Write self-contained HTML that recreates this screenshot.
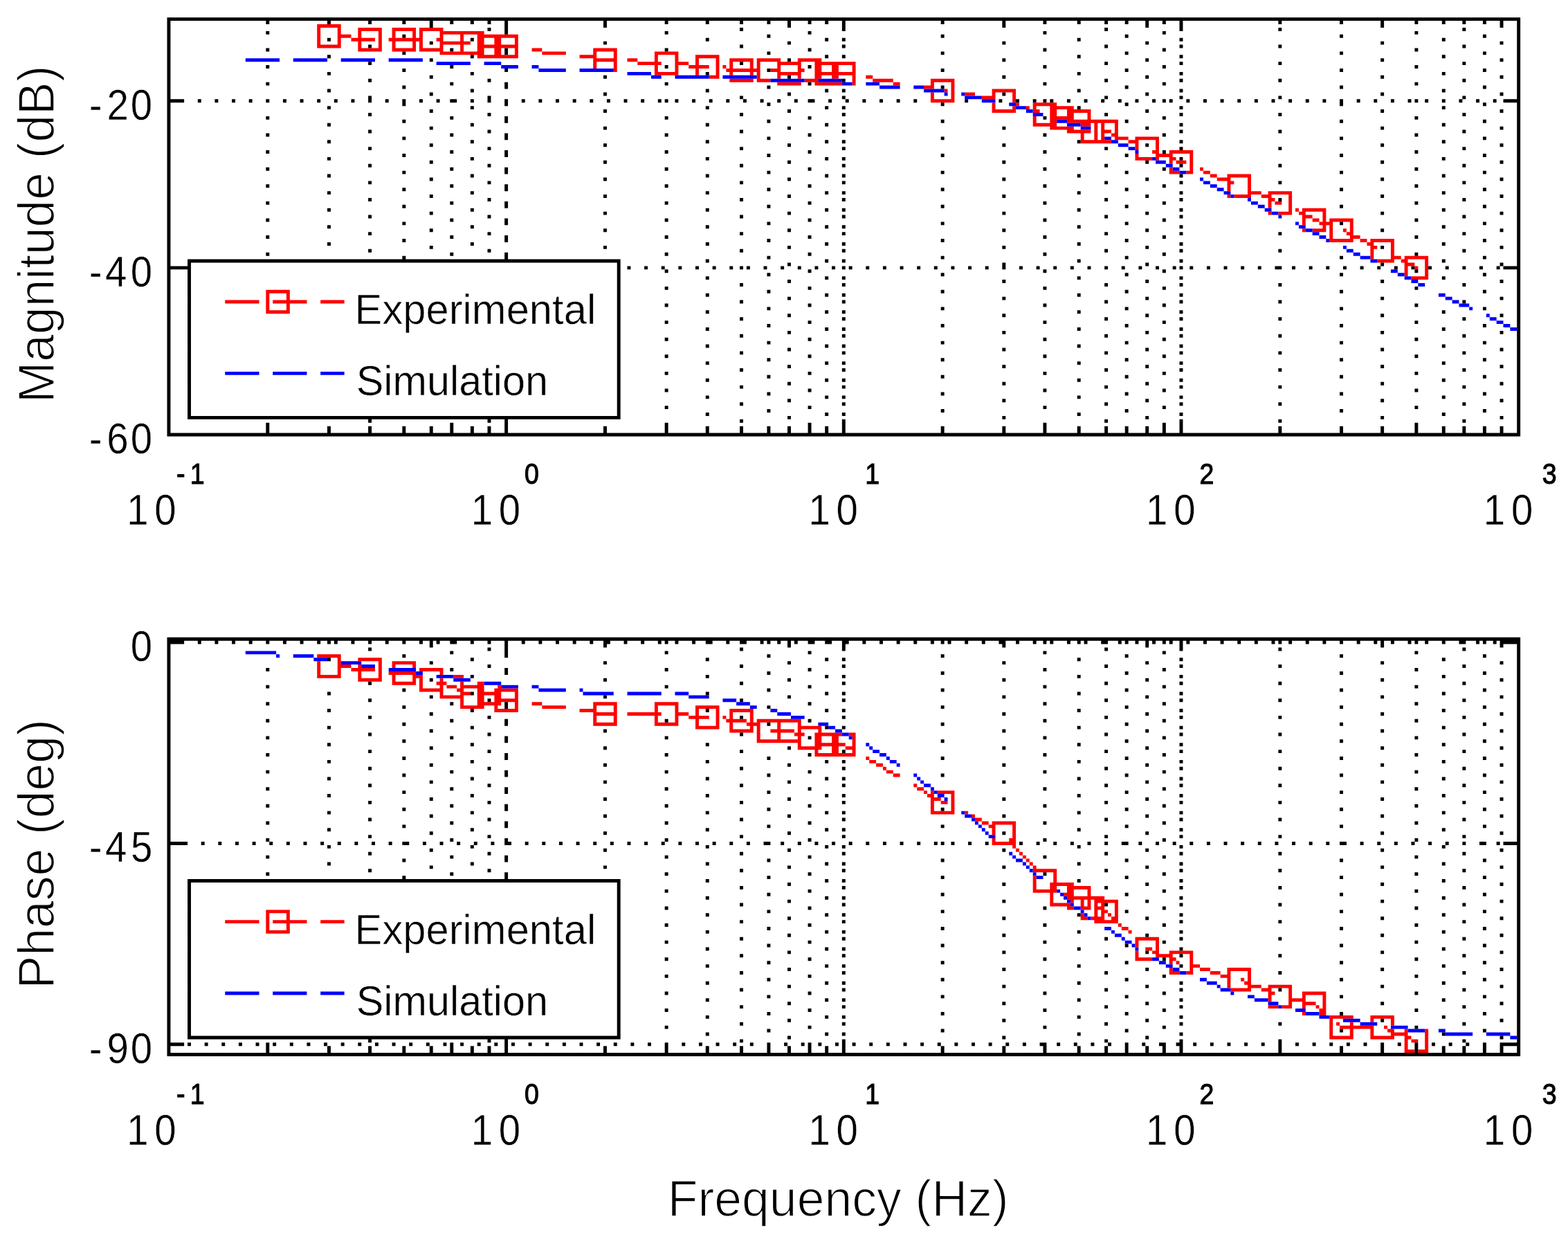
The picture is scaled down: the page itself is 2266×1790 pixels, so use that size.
<!DOCTYPE html>
<html><head><meta charset="utf-8"><title>Bode plot</title>
<style>html,body{margin:0;padding:0;background:#fff;overflow:hidden}svg{display:block}
text{font-family:"Liberation Sans",Arial,Helvetica,sans-serif;fill:#000}
.tk{stroke:#fff;stroke-width:0.4px}.sp{stroke:#000;stroke-width:1.1px}.lg{stroke:#fff;stroke-width:0.6px}.ax{stroke:#fff;stroke-width:1.5px}</style></head>
<body>
<svg width="2266" height="1790" viewBox="0 0 2266 1790">
<rect width="2266" height="1790" fill="#fff"/>
<g transform="translate(0.1 0.6) scale(4.9261 4.9206)">
<path fill="#f00" d="M93 7h7v1h-7zM93 8h1v1h-1zM99 8h1v1h-1zM105 8h7v1h-7zM115 8h7v1h-7zM123 8h7v1h-7zM93 9h1v1h-1zM99 9h1v1h-1zM105 9h1v1h-1zM111 9h1v1h-1zM115 9h1v1h-1zM121 9h1v1h-1zM123 9h1v1h-1zM129 9h13v1h-13zM93 10h1v1h-1zM99 10h4v1h-4zM105 10h1v1h-1zM111 10h1v1h-1zM115 10h1v1h-1zM121 10h1v1h-1zM123 10h1v1h-1zM129 10h1v1h-1zM135 10h1v1h-1zM140 10h12v1h-12zM93 11h1v1h-1zM99 11h1v1h-1zM103 11h7v1h-7zM111 11h1v1h-1zM114 11h10v1h-10zM128 11h2v1h-2zM135 11h1v1h-1zM140 11h2v1h-2zM145 11h2v1h-2zM151 11h1v1h-1zM93 12h1v1h-1zM99 12h1v1h-1zM105 12h1v1h-1zM111 12h1v1h-1zM115 12h1v1h-1zM121 12h1v1h-1zM123 12h1v1h-1zM129 12h9v1h-9zM140 12h2v1h-2zM145 12h2v1h-2zM151 12h1v1h-1zM93 13h7v1h-7zM105 13h1v1h-1zM111 13h1v1h-1zM115 13h1v1h-1zM121 13h1v1h-1zM123 13h1v1h-1zM129 13h1v1h-1zM135 13h1v1h-1zM140 13h12v1h-12zM105 14h7v1h-7zM115 14h7v1h-7zM123 14h7v1h-7zM135 14h1v1h-1zM140 14h2v1h-2zM145 14h2v1h-2zM151 14h1v1h-1zM156 14h3v1h-3zM174 14h7v1h-7zM129 15h13v1h-13zM145 15h2v1h-2zM151 15h1v1h-1zM159 15h7v1h-7zM174 15h1v1h-1zM180 15h1v1h-1zM192 15h7v1h-7zM140 16h12v1h-12zM170 16h5v1h-5zM180 16h1v1h-1zM192 16h1v1h-1zM198 16h1v1h-1zM204 16h7v1h-7zM174 17h7v1h-7zM184 17h3v1h-3zM192 17h1v1h-1zM198 17h1v1h-1zM204 17h1v1h-1zM210 17h1v1h-1zM214 17h7v1h-7zM222 17h7v1h-7zM234 17h7v1h-7zM174 18h1v1h-1zM180 18h1v1h-1zM187 18h7v1h-7zM198 18h4v1h-4zM204 18h1v1h-1zM210 18h1v1h-1zM214 18h1v1h-1zM220 18h1v1h-1zM222 18h1v1h-1zM228 18h7v1h-7zM239 18h12v1h-12zM174 19h1v1h-1zM180 19h1v1h-1zM192 19h1v1h-1zM198 19h1v1h-1zM202 19h6v1h-6zM210 19h1v1h-1zM212 19h1v1h-1zM214 19h1v1h-1zM220 19h1v1h-1zM222 19h1v1h-1zM228 19h1v1h-1zM234 19h1v1h-1zM239 19h2v1h-2zM244 19h2v1h-2zM250 19h1v1h-1zM180 20h1v1h-1zM192 20h1v1h-1zM198 20h1v1h-1zM204 20h1v1h-1zM210 20h1v1h-1zM213 20h10v1h-10zM226 20h3v1h-3zM234 20h2v1h-2zM239 20h2v1h-2zM244 20h2v1h-2zM250 20h1v1h-1zM192 21h7v1h-7zM204 21h1v1h-1zM210 21h1v1h-1zM214 21h1v1h-1zM220 21h1v1h-1zM222 21h1v1h-1zM228 21h7v1h-7zM239 21h12v1h-12zM208 22h3v1h-3zM222 22h1v1h-1zM228 22h1v1h-1zM234 22h1v1h-1zM239 22h2v1h-2zM244 22h2v1h-2zM250 22h1v1h-1zM254 22h2v1h-2zM214 23h7v1h-7zM222 23h4v1h-4zM236 23h4v1h-4zM250 23h1v1h-1zM256 23h6v1h-6zM273 23h7v1h-7zM228 24h7v1h-7zM239 24h8v1h-8zM250 24h1v1h-1zM262 24h2v1h-2zM273 24h1v1h-1zM279 24h1v1h-1zM271 25h3v1h-3zM279 25h1v1h-1zM277 26h1v1h-1zM279 26h1v1h-1zM291 26h7v1h-7zM273 27h1v1h-1zM279 27h1v1h-1zM283 27h3v1h-3zM291 27h1v1h-1zM297 27h1v1h-1zM273 28h1v1h-1zM279 28h1v1h-1zM288 28h4v1h-4zM297 28h1v1h-1zM273 29h7v1h-7zM297 29h1v1h-1zM291 30h1v1h-1zM298 30h1v1h-1zM303 30h7v1h-7zM291 31h1v1h-1zM297 31h1v1h-1zM301 31h1v1h-1zM303 31h1v1h-1zM308 31h7v1h-7zM291 32h7v1h-7zM303 32h2v1h-2zM308 32h2v1h-2zM313 32h7v1h-7zM308 33h2v1h-2zM313 33h2v1h-2zM319 33h1v1h-1zM303 34h1v1h-1zM308 34h7v1h-7zM319 34h1v1h-1zM303 35h1v1h-1zM308 35h2v1h-2zM313 35h15v1h-15zM303 36h7v1h-7zM317 36h3v1h-3zM321 36h1v1h-1zM323 36h1v1h-1zM327 36h1v1h-1zM308 37h7v1h-7zM321 37h1v1h-1zM323 37h1v1h-1zM327 37h1v1h-1zM313 38h7v1h-7zM321 38h1v1h-1zM323 38h3v1h-3zM327 38h1v1h-1zM317 39h1v1h-1zM321 39h1v1h-1zM323 39h1v1h-1zM326 39h2v1h-2zM317 40h1v1h-1zM321 40h1v1h-1zM323 40h1v1h-1zM327 40h4v1h-4zM333 40h7v1h-7zM317 41h9v1h-9zM331 41h3v1h-3zM339 41h1v1h-1zM333 42h1v1h-1zM339 42h1v1h-1zM333 43h1v1h-1zM339 43h1v1h-1zM338 44h2v1h-2zM343 44h7v1h-7zM333 45h1v1h-1zM339 45h5v1h-5zM349 45h1v1h-1zM333 46h5v1h-5zM339 46h1v1h-1zM343 46h2v1h-2zM349 46h1v1h-1zM343 47h1v1h-1zM345 47h3v1h-3zM349 47h1v1h-1zM349 48h1v1h-1zM343 49h1v1h-1zM349 49h1v1h-1zM352 49h1v1h-1zM343 50h3v1h-3zM348 50h2v1h-2zM353 50h2v1h-2zM355 51h2v1h-2zM360 51h7v1h-7zM357 52h4v1h-4zM366 52h1v1h-1zM360 53h2v1h-2zM366 53h1v1h-1zM360 54h1v1h-1zM366 54h1v1h-1zM360 55h1v1h-1zM366 55h1v1h-1zM366 56h4v1h-4zM372 56h7v1h-7zM360 57h1v1h-1zM362 57h5v1h-5zM370 57h3v1h-3zM378 57h1v1h-1zM372 58h2v1h-2zM378 58h1v1h-1zM372 59h1v1h-1zM374 59h2v1h-2zM378 59h1v1h-1zM372 60h1v1h-1zM378 60h1v1h-1zM378 61h1v1h-1zM380 61h1v1h-1zM382 61h7v1h-7zM372 62h1v1h-1zM375 62h4v1h-4zM381 62h2v1h-2zM388 62h1v1h-1zM382 63h3v1h-3zM388 63h1v1h-1zM382 64h1v1h-1zM385 64h2v1h-2zM388 64h1v1h-1zM390 64h7v1h-7zM382 65h1v1h-1zM387 65h4v1h-4zM396 65h1v1h-1zM388 66h1v1h-1zM390 66h1v1h-1zM396 66h1v1h-1zM382 67h1v1h-1zM385 67h4v1h-4zM390 67h1v1h-1zM394 67h1v1h-1zM396 67h1v1h-1zM390 68h1v1h-1zM395 68h2v1h-2zM390 69h1v1h-1zM396 69h3v1h-3zM390 70h7v1h-7zM399 70h2v1h-2zM402 70h7v1h-7zM401 71h2v1h-2zM408 71h1v1h-1zM402 72h2v1h-2zM408 72h1v1h-1zM402 73h1v1h-1zM408 73h1v1h-1zM402 74h1v1h-1zM408 74h1v1h-1zM402 75h1v1h-1zM408 75h3v1h-3zM412 75h7v1h-7zM404 76h5v1h-5zM411 76h2v1h-2zM418 76h1v1h-1zM412 77h3v1h-3zM418 77h1v1h-1zM412 78h1v1h-1zM415 78h1v1h-1zM418 78h1v1h-1zM412 79h1v1h-1zM418 79h1v1h-1zM412 80h1v1h-1zM418 80h1v1h-1zM414 81h5v1h-5zM78 85h7v1h-7zM78 86h1v1h-1zM84 86h1v1h-1zM78 87h1v1h-1zM84 87h1v1h-1zM66 88h10v1h-10zM78 88h1v1h-1zM80 88h10v1h-10zM94 88h7v1h-7zM78 89h1v1h-1zM84 89h1v1h-1zM78 90h1v1h-1zM84 90h1v1h-1zM78 91h7v1h-7zM93 192h7v1h-7zM99 193h1v1h-1zM105 193h7v1h-7zM93 194h1v1h-1zM99 194h1v1h-1zM111 194h1v1h-1zM115 194h7v1h-7zM93 195h1v1h-1zM99 195h4v1h-4zM105 195h1v1h-1zM111 195h1v1h-1zM115 195h1v1h-1zM121 195h1v1h-1zM93 196h1v1h-1zM99 196h1v1h-1zM103 196h7v1h-7zM111 196h1v1h-1zM123 196h7v1h-7zM93 197h1v1h-1zM99 197h1v1h-1zM105 197h1v1h-1zM111 197h1v1h-1zM114 197h8v1h-8zM129 197h1v1h-1zM93 198h7v1h-7zM105 198h1v1h-1zM111 198h1v1h-1zM115 198h1v1h-1zM121 198h3v1h-3zM133 198h3v1h-3zM105 199h7v1h-7zM115 199h1v1h-1zM121 199h1v1h-1zM123 199h1v1h-1zM129 199h1v1h-1zM115 200h7v1h-7zM123 200h1v1h-1zM128 200h3v1h-3zM135 200h1v1h-1zM140 200h2v1h-2zM123 201h1v1h-1zM129 201h1v1h-1zM131 201h3v1h-3zM135 201h7v1h-7zM146 201h1v1h-1zM123 202h7v1h-7zM134 202h2v1h-2zM140 202h2v1h-2zM145 202h7v1h-7zM129 203h1v1h-1zM135 203h3v1h-3zM140 203h7v1h-7zM151 203h1v1h-1zM129 204h7v1h-7zM140 204h2v1h-2zM145 204h2v1h-2zM151 204h1v1h-1zM135 205h1v1h-1zM140 205h2v1h-2zM145 205h7v1h-7zM135 206h1v1h-1zM140 206h7v1h-7zM151 206h1v1h-1zM156 206h3v1h-3zM174 206h7v1h-7zM192 206h7v1h-7zM135 207h7v1h-7zM145 207h1v1h-1zM151 207h1v1h-1zM159 207h7v1h-7zM174 207h1v1h-1zM180 207h1v1h-1zM192 207h1v1h-1zM198 207h1v1h-1zM204 207h7v1h-7zM145 208h7v1h-7zM170 208h5v1h-5zM180 208h1v1h-1zM192 208h1v1h-1zM198 208h1v1h-1zM204 208h1v1h-1zM210 208h1v1h-1zM214 208h7v1h-7zM174 209h7v1h-7zM184 209h10v1h-10zM198 209h4v1h-4zM204 209h1v1h-1zM210 209h1v1h-1zM214 209h1v1h-1zM220 209h1v1h-1zM174 210h1v1h-1zM180 210h1v1h-1zM192 210h1v1h-1zM198 210h1v1h-1zM202 210h6v1h-6zM210 210h1v1h-1zM212 210h1v1h-1zM214 210h1v1h-1zM220 210h1v1h-1zM174 211h1v1h-1zM180 211h1v1h-1zM192 211h1v1h-1zM198 211h1v1h-1zM204 211h1v1h-1zM210 211h1v1h-1zM213 211h6v1h-6zM220 211h1v1h-1zM222 211h13v1h-13zM174 212h7v1h-7zM192 212h7v1h-7zM204 212h1v1h-1zM210 212h1v1h-1zM214 212h1v1h-1zM219 212h4v1h-4zM228 212h1v1h-1zM234 212h1v1h-1zM204 213h7v1h-7zM214 213h1v1h-1zM220 213h1v1h-1zM222 213h1v1h-1zM228 213h1v1h-1zM234 213h7v1h-7zM214 214h7v1h-7zM222 214h1v1h-1zM226 214h7v1h-7zM234 214h1v1h-1zM240 214h1v1h-1zM222 215h1v1h-1zM228 215h1v1h-1zM233 215h3v1h-3zM239 215h8v1h-8zM249 215h2v1h-2zM222 216h1v1h-1zM228 216h1v1h-1zM234 216h1v1h-1zM239 216h2v1h-2zM244 216h2v1h-2zM250 216h1v1h-1zM222 217h13v1h-13zM239 217h2v1h-2zM244 217h2v1h-2zM250 217h1v1h-1zM234 218h1v1h-1zM239 218h9v1h-9zM250 218h1v1h-1zM234 219h7v1h-7zM244 219h2v1h-2zM248 219h3v1h-3zM239 220h1v1h-1zM244 220h2v1h-2zM250 220h1v1h-1zM239 221h12v1h-12zM254 222h1v1h-1zM255 223h2v1h-2zM257 224h2v1h-2zM259 225h1v1h-1zM260 226h2v1h-2zM262 227h2v1h-2zM268 230h1v1h-1zM269 231h2v1h-2zM271 232h1v1h-1zM273 232h1v1h-1zM275 232h5v1h-5zM272 233h2v1h-2zM279 233h1v1h-1zM273 234h3v1h-3zM279 234h1v1h-1zM273 235h1v1h-1zM276 235h2v1h-2zM279 235h1v1h-1zM273 236h1v1h-1zM279 236h1v1h-1zM273 237h1v1h-1zM279 237h1v1h-1zM273 238h7v1h-7zM283 238h1v1h-1zM285 239h1v1h-1zM286 240h2v1h-2zM288 241h2v1h-2zM291 241h7v1h-7zM290 242h2v1h-2zM297 242h1v1h-1zM291 243h1v1h-1zM297 243h1v1h-1zM291 244h1v1h-1zM297 244h1v1h-1zM297 245h1v1h-1zM291 246h1v1h-1zM296 246h2v1h-2zM291 247h7v1h-7zM297 248h1v1h-1zM298 249h1v1h-1zM299 250h1v1h-1zM300 251h1v1h-1zM301 252h1v1h-1zM302 253h1v1h-1zM303 254h1v1h-1zM303 255h7v1h-7zM309 256h1v1h-1zM303 257h1v1h-1zM309 257h1v1h-1zM303 258h1v1h-1zM309 258h1v1h-1zM303 259h1v1h-1zM308 259h7v1h-7zM303 260h1v1h-1zM308 260h2v1h-2zM313 260h7v1h-7zM303 261h7v1h-7zM313 261h2v1h-2zM319 261h1v1h-1zM308 262h1v1h-1zM312 262h3v1h-3zM319 262h1v1h-1zM308 263h1v1h-1zM313 263h11v1h-11zM308 264h1v1h-1zM314 264h1v1h-1zM317 264h1v1h-1zM319 264h1v1h-1zM321 264h7v1h-7zM308 265h6v1h-6zM317 265h1v1h-1zM319 265h1v1h-1zM321 265h1v1h-1zM323 265h1v1h-1zM327 265h1v1h-1zM313 266h2v1h-2zM317 266h3v1h-3zM321 266h3v1h-3zM327 266h1v1h-1zM78 267h7v1h-7zM321 267h1v1h-1zM323 267h2v1h-2zM327 267h1v1h-1zM78 268h1v1h-1zM84 268h1v1h-1zM317 268h1v1h-1zM321 268h1v1h-1zM323 268h1v1h-1zM325 268h1v1h-1zM327 268h1v1h-1zM78 269h1v1h-1zM84 269h1v1h-1zM317 269h2v1h-2zM320 269h4v1h-4zM326 269h2v1h-2zM66 270h10v1h-10zM78 270h1v1h-1zM80 270h10v1h-10zM94 270h7v1h-7zM321 270h7v1h-7zM78 271h1v1h-1zM84 271h1v1h-1zM328 271h1v1h-1zM78 272h1v1h-1zM84 272h1v1h-1zM329 272h2v1h-2zM78 273h7v1h-7zM331 273h1v1h-1zM333 275h7v1h-7zM333 276h1v1h-1zM339 276h1v1h-1zM333 277h1v1h-1zM339 277h1v1h-1zM336 278h2v1h-2zM339 278h1v1h-1zM333 279h1v1h-1zM338 279h2v1h-2zM343 279h7v1h-7zM333 280h1v1h-1zM339 280h5v1h-5zM349 280h1v1h-1zM333 281h5v1h-5zM343 281h2v1h-2zM349 281h1v1h-1zM343 282h1v1h-1zM345 282h1v1h-1zM349 282h1v1h-1zM349 283h3v1h-3zM343 284h1v1h-1zM349 284h1v1h-1zM352 284h3v1h-3zM360 284h7v1h-7zM343 285h3v1h-3zM348 285h2v1h-2zM355 285h3v1h-3zM360 285h1v1h-1zM366 285h1v1h-1zM358 286h3v1h-3zM366 286h1v1h-1zM360 287h1v1h-1zM364 287h1v1h-1zM366 287h1v1h-1zM360 288h1v1h-1zM365 288h2v1h-2zM360 289h1v1h-1zM366 289h4v1h-4zM372 289h7v1h-7zM361 290h6v1h-6zM370 290h3v1h-3zM378 290h1v1h-1zM372 291h2v1h-2zM378 291h1v1h-1zM382 291h7v1h-7zM372 292h1v1h-1zM378 292h1v1h-1zM382 292h1v1h-1zM388 292h1v1h-1zM372 293h1v1h-1zM378 293h5v1h-5zM388 293h1v1h-1zM378 294h1v1h-1zM382 294h4v1h-4zM388 294h1v1h-1zM372 295h3v1h-3zM376 295h3v1h-3zM382 295h1v1h-1zM386 295h1v1h-1zM388 295h1v1h-1zM387 296h2v1h-2zM382 297h1v1h-1zM387 297h2v1h-2zM390 298h7v1h-7zM402 298h7v1h-7zM390 299h1v1h-1zM402 299h1v1h-1zM408 299h1v1h-1zM390 300h1v1h-1zM392 300h1v1h-1zM396 300h1v1h-1zM408 300h1v1h-1zM390 301h1v1h-1zM393 301h10v1h-10zM406 301h1v1h-1zM390 302h1v1h-1zM396 302h1v1h-1zM402 302h1v1h-1zM407 302h2v1h-2zM412 302h1v1h-1zM418 302h1v1h-1zM390 303h1v1h-1zM396 303h1v1h-1zM402 303h1v1h-1zM408 303h5v1h-5zM418 303h1v1h-1zM390 304h7v1h-7zM402 304h7v1h-7zM412 304h2v1h-2zM418 304h1v1h-1zM412 305h1v1h-1zM414 305h2v1h-2zM418 305h1v1h-1zM412 306h1v1h-1zM418 306h1v1h-1zM412 307h1v1h-1zM418 307h1v1h-1zM412 308h3v1h-3zM416 308h3v1h-3z"/>
<path fill="#00f" d="M72 17h10v1h-10zM86 17h10v1h-10zM100 17h10v1h-10zM114 17h10v1h-10zM128 18h10v1h-10zM142 18h5v1h-5zM147 19h5v1h-5zM156 19h2v1h-2zM158 20h8v1h-8zM170 20h10v1h-10zM184 21h7v1h-7zM191 22h3v1h-3zM198 22h10v1h-10zM212 22h10v1h-10zM226 23h10v1h-10zM240 23h7v1h-7zM247 24h3v1h-3zM254 24h4v1h-4zM258 25h6v1h-6zM268 25h3v1h-3zM271 26h6v1h-6zM277 27h1v1h-1zM282 27h1v1h-1zM283 28h5v1h-5zM288 29h4v1h-4zM296 30h2v1h-2zM298 31h3v1h-3zM301 32h2v1h-2zM303 33h3v1h-3zM310 35h3v1h-3zM313 36h4v1h-4zM317 37h3v1h-3zM324 40h2v1h-2zM326 41h2v1h-2zM328 42h3v1h-3zM331 43h2v1h-2zM333 44h1v1h-1zM338 46h1v1h-1zM339 47h3v1h-3zM342 48h2v1h-2zM344 49h2v1h-2zM346 50h2v1h-2zM352 52h1v1h-1zM353 53h2v1h-2zM355 54h2v1h-2zM357 55h2v1h-2zM359 56h2v1h-2zM361 57h1v1h-1zM366 58h1v1h-1zM367 59h2v1h-2zM369 60h2v1h-2zM371 61h2v1h-2zM373 62h2v1h-2zM375 63h1v1h-1zM380 65h1v1h-1zM381 66h2v1h-2zM383 67h2v1h-2zM385 68h2v1h-2zM387 69h2v1h-2zM389 70h1v1h-1zM394 72h1v1h-1zM395 73h2v1h-2zM397 74h2v1h-2zM399 75h3v1h-3zM402 76h2v1h-2zM408 79h2v1h-2zM410 80h2v1h-2zM412 81h2v1h-2zM414 82h2v1h-2zM416 83h2v1h-2zM422 86h2v1h-2zM424 87h2v1h-2zM426 88h2v1h-2zM428 89h3v1h-3zM431 90h1v1h-1zM436 92h1v1h-1zM437 93h2v1h-2zM439 94h2v1h-2zM441 95h2v1h-2zM443 96h2v1h-2zM66 109h10v1h-10zM80 109h10v1h-10zM94 109h7v1h-7zM72 191h9v1h-9zM81 192h1v1h-1zM86 192h6v1h-6zM92 193h4v1h-4zM100 194h6v1h-6zM106 195h4v1h-4zM114 196h8v1h-8zM122 197h2v1h-2zM128 198h5v1h-5zM133 199h5v1h-5zM142 200h5v1h-5zM147 201h5v1h-5zM156 201h2v1h-2zM158 202h8v1h-8zM170 202h1v1h-1zM171 203h9v1h-9zM184 203h10v1h-10zM198 203h4v1h-4zM202 204h6v1h-6zM212 205h4v1h-4zM216 206h4v1h-4zM220 207h2v1h-2zM226 208h2v1h-2zM228 209h4v1h-4zM232 210h4v1h-4zM240 212h3v1h-3zM243 213h2v1h-2zM245 214h2v1h-2zM247 215h2v1h-2zM249 216h1v1h-1zM254 218h1v1h-1zM255 219h1v1h-1zM256 220h2v1h-2zM258 221h2v1h-2zM260 222h1v1h-1zM261 223h2v1h-2zM263 224h1v1h-1zM268 227h1v1h-1zM269 228h1v1h-1zM270 229h1v1h-1zM271 230h2v1h-2zM273 231h1v1h-1zM274 232h1v1h-1zM275 233h2v1h-2zM277 234h1v1h-1zM282 238h1v1h-1zM283 239h2v1h-2zM285 240h1v1h-1zM286 241h1v1h-1zM287 242h1v1h-1zM288 243h1v1h-1zM289 244h1v1h-1zM290 245h2v1h-2zM296 250h1v1h-1zM297 251h1v1h-1zM298 252h2v1h-2zM300 253h1v1h-1zM301 254h1v1h-1zM302 255h1v1h-1zM303 256h1v1h-1zM304 257h2v1h-2zM310 261h1v1h-1zM311 262h1v1h-1zM312 263h1v1h-1zM313 264h1v1h-1zM314 265h1v1h-1zM315 266h2v1h-2zM317 267h1v1h-1zM318 268h1v1h-1zM319 269h1v1h-1zM324 272h2v1h-2zM326 273h1v1h-1zM327 274h2v1h-2zM329 275h1v1h-1zM330 276h2v1h-2zM332 277h1v1h-1zM333 278h1v1h-1zM338 281h2v1h-2zM340 282h2v1h-2zM342 283h2v1h-2zM344 284h2v1h-2zM346 285h2v1h-2zM352 287h2v1h-2zM354 288h3v1h-3zM357 289h1v1h-1zM358 290h3v1h-3zM66 291h10v1h-10zM80 291h10v1h-10zM94 291h7v1h-7zM361 291h1v1h-1zM366 292h2v1h-2zM368 293h4v1h-4zM372 294h3v1h-3zM375 295h1v1h-1zM380 296h3v1h-3zM383 297h4v1h-4zM387 298h3v1h-3zM394 299h5v1h-5zM399 300h5v1h-5zM408 301h5v1h-5zM413 302h5v1h-5zM422 302h2v1h-2zM424 303h8v1h-8zM436 303h7v1h-7zM443 304h2v1h-2z"/>
<path fill="#000" d="M49 5h397v1h-397zM49 6h1v1h-1zM78 6h1v1h-1zM96 6h1v1h-1zM108 6h1v1h-1zM118 6h1v1h-1zM126 6h1v1h-1zM132 6h1v1h-1zM138 6h1v1h-1zM143 6h1v1h-1zM148 6h1v1h-1zM177 6h1v1h-1zM195 6h1v1h-1zM207 6h1v1h-1zM217 6h1v1h-1zM225 6h1v1h-1zM231 6h1v1h-1zM237 6h1v1h-1zM242 6h1v1h-1zM247 6h1v1h-1zM276 6h1v1h-1zM294 6h1v1h-1zM306 6h1v1h-1zM316 6h1v1h-1zM324 6h1v1h-1zM330 6h1v1h-1zM336 6h1v1h-1zM341 6h1v1h-1zM346 6h1v1h-1zM375 6h1v1h-1zM393 6h1v1h-1zM405 6h1v1h-1zM415 6h1v1h-1zM423 6h1v1h-1zM429 6h1v1h-1zM435 6h1v1h-1zM440 6h1v1h-1zM445 6h1v1h-1zM49 7h1v1h-1zM126 7h1v1h-1zM148 7h1v1h-1zM177 7h1v1h-1zM231 7h1v1h-1zM247 7h1v1h-1zM294 7h1v1h-1zM336 7h1v1h-1zM346 7h1v1h-1zM405 7h1v1h-1zM440 7h1v1h-1zM445 7h1v1h-1zM49 8h1v1h-1zM143 8h1v1h-1zM148 8h1v1h-1zM217 8h1v1h-1zM247 8h1v1h-1zM324 8h1v1h-1zM346 8h1v1h-1zM375 8h1v1h-1zM429 8h1v1h-1zM445 8h1v1h-1zM49 9h1v1h-1zM78 9h1v1h-1zM148 9h1v1h-1zM195 9h1v1h-1zM237 9h1v1h-1zM306 9h1v1h-1zM341 9h1v1h-1zM415 9h1v1h-1zM445 9h1v1h-1zM49 10h1v1h-1zM118 10h1v1h-1zM225 10h1v1h-1zM276 10h1v1h-1zM330 10h1v1h-1zM393 10h1v1h-1zM435 10h1v1h-1zM445 10h1v1h-1zM49 11h1v1h-1zM96 11h1v1h-1zM138 11h1v1h-1zM207 11h1v1h-1zM242 11h1v1h-1zM247 11h1v1h-1zM316 11h1v1h-1zM346 11h1v1h-1zM423 11h1v1h-1zM445 11h1v1h-1zM49 12h1v1h-1zM126 12h1v1h-1zM177 12h1v1h-1zM231 12h1v1h-1zM294 12h1v1h-1zM336 12h1v1h-1zM405 12h1v1h-1zM440 12h1v1h-1zM445 12h1v1h-1zM49 13h1v1h-1zM108 13h1v1h-1zM217 13h1v1h-1zM247 13h1v1h-1zM324 13h1v1h-1zM346 13h1v1h-1zM375 13h1v1h-1zM429 13h1v1h-1zM445 13h1v1h-1zM49 14h1v1h-1zM78 14h1v1h-1zM132 14h1v1h-1zM148 14h1v1h-1zM195 14h1v1h-1zM237 14h1v1h-1zM306 14h1v1h-1zM341 14h1v1h-1zM415 14h1v1h-1zM445 14h1v1h-1zM49 15h1v1h-1zM118 15h1v1h-1zM148 15h1v1h-1zM225 15h1v1h-1zM276 15h1v1h-1zM330 15h1v1h-1zM393 15h1v1h-1zM435 15h1v1h-1zM445 15h1v1h-1zM49 16h1v1h-1zM96 16h1v1h-1zM138 16h1v1h-1zM242 16h1v1h-1zM247 16h1v1h-1zM316 16h1v1h-1zM346 16h1v1h-1zM423 16h1v1h-1zM445 16h1v1h-1zM49 17h1v1h-1zM126 17h1v1h-1zM231 17h1v1h-1zM294 17h1v1h-1zM336 17h1v1h-1zM405 17h1v1h-1zM440 17h1v1h-1zM445 17h1v1h-1zM49 18h1v1h-1zM108 18h1v1h-1zM217 18h1v1h-1zM324 18h1v1h-1zM346 18h1v1h-1zM375 18h1v1h-1zM429 18h1v1h-1zM445 18h1v1h-1zM49 19h1v1h-1zM78 19h1v1h-1zM132 19h1v1h-1zM195 19h1v1h-1zM237 19h1v1h-1zM306 19h1v1h-1zM341 19h1v1h-1zM415 19h1v1h-1zM445 19h1v1h-1zM49 20h1v1h-1zM118 20h1v1h-1zM148 20h1v1h-1zM225 20h1v1h-1zM276 20h1v1h-1zM330 20h1v1h-1zM393 20h1v1h-1zM435 20h1v1h-1zM445 20h1v1h-1zM49 21h1v1h-1zM96 21h1v1h-1zM138 21h1v1h-1zM207 21h1v1h-1zM316 21h1v1h-1zM346 21h1v1h-1zM423 21h1v1h-1zM445 21h1v1h-1zM49 22h1v1h-1zM126 22h1v1h-1zM177 22h1v1h-1zM231 22h1v1h-1zM294 22h1v1h-1zM336 22h1v1h-1zM405 22h1v1h-1zM440 22h1v1h-1zM445 22h1v1h-1zM49 23h1v1h-1zM108 23h1v1h-1zM143 23h1v1h-1zM247 23h1v1h-1zM324 23h1v1h-1zM346 23h1v1h-1zM375 23h1v1h-1zM429 23h1v1h-1zM445 23h1v1h-1zM49 24h1v1h-1zM78 24h1v1h-1zM132 24h1v1h-1zM148 24h1v1h-1zM195 24h1v1h-1zM237 24h1v1h-1zM306 24h1v1h-1zM341 24h1v1h-1zM415 24h1v1h-1zM445 24h1v1h-1zM49 25h1v1h-1zM118 25h1v1h-1zM148 25h1v1h-1zM225 25h1v1h-1zM276 25h1v1h-1zM330 25h1v1h-1zM393 25h1v1h-1zM435 25h1v1h-1zM445 25h1v1h-1zM49 26h1v1h-1zM96 26h1v1h-1zM138 26h1v1h-1zM207 26h1v1h-1zM242 26h1v1h-1zM247 26h1v1h-1zM316 26h1v1h-1zM346 26h1v1h-1zM423 26h1v1h-1zM445 26h1v1h-1zM49 27h1v1h-1zM126 27h1v1h-1zM177 27h1v1h-1zM231 27h1v1h-1zM294 27h1v1h-1zM336 27h1v1h-1zM405 27h1v1h-1zM440 27h1v1h-1zM445 27h1v1h-1zM49 28h1v1h-1zM108 28h1v1h-1zM143 28h1v1h-1zM217 28h1v1h-1zM247 28h1v1h-1zM324 28h1v1h-1zM346 28h1v1h-1zM375 28h1v1h-1zM429 28h1v1h-1zM445 28h1v1h-1zM49 29h5v1h-5zM58 29h1v1h-1zM63 29h1v1h-1zM68 29h1v1h-1zM73 29h1v1h-1zM78 29h1v1h-1zM83 29h1v1h-1zM88 29h1v1h-1zM93 29h1v1h-1zM98 29h1v1h-1zM103 29h1v1h-1zM108 29h1v1h-1zM113 29h1v1h-1zM118 29h1v1h-1zM123 29h1v1h-1zM128 29h1v1h-1zM132 29h2v1h-2zM138 29h1v1h-1zM143 29h1v1h-1zM148 29h1v1h-1zM153 29h1v1h-1zM158 29h1v1h-1zM163 29h1v1h-1zM168 29h1v1h-1zM173 29h1v1h-1zM178 29h1v1h-1zM183 29h1v1h-1zM188 29h1v1h-1zM193 29h1v1h-1zM195 29h1v1h-1zM198 29h1v1h-1zM203 29h1v1h-1zM208 29h1v1h-1zM213 29h1v1h-1zM218 29h1v1h-1zM223 29h1v1h-1zM228 29h1v1h-1zM233 29h1v1h-1zM237 29h2v1h-2zM243 29h1v1h-1zM248 29h1v1h-1zM253 29h1v1h-1zM258 29h1v1h-1zM263 29h1v1h-1zM268 29h1v1h-1zM283 29h1v1h-1zM293 29h1v1h-1zM298 29h1v1h-1zM303 29h1v1h-1zM306 29h1v1h-1zM308 29h1v1h-1zM313 29h1v1h-1zM318 29h1v1h-1zM323 29h1v1h-1zM328 29h1v1h-1zM333 29h1v1h-1zM338 29h1v1h-1zM341 29h1v1h-1zM343 29h1v1h-1zM348 29h1v1h-1zM353 29h1v1h-1zM358 29h1v1h-1zM363 29h1v1h-1zM368 29h1v1h-1zM373 29h1v1h-1zM378 29h1v1h-1zM383 29h1v1h-1zM388 29h1v1h-1zM393 29h1v1h-1zM398 29h1v1h-1zM403 29h1v1h-1zM408 29h1v1h-1zM413 29h1v1h-1zM415 29h1v1h-1zM418 29h1v1h-1zM423 29h1v1h-1zM428 29h1v1h-1zM433 29h1v1h-1zM438 29h1v1h-1zM441 29h5v1h-5zM49 30h1v1h-1zM118 30h1v1h-1zM148 30h1v1h-1zM225 30h1v1h-1zM276 30h1v1h-1zM330 30h1v1h-1zM393 30h1v1h-1zM435 30h1v1h-1zM445 30h1v1h-1zM49 31h1v1h-1zM96 31h1v1h-1zM138 31h1v1h-1zM207 31h1v1h-1zM242 31h1v1h-1zM247 31h1v1h-1zM316 31h1v1h-1zM346 31h1v1h-1zM423 31h1v1h-1zM445 31h1v1h-1zM49 32h1v1h-1zM126 32h1v1h-1zM177 32h1v1h-1zM231 32h1v1h-1zM336 32h1v1h-1zM405 32h1v1h-1zM440 32h1v1h-1zM445 32h1v1h-1zM49 33h1v1h-1zM108 33h1v1h-1zM143 33h1v1h-1zM217 33h1v1h-1zM247 33h1v1h-1zM324 33h1v1h-1zM346 33h1v1h-1zM375 33h1v1h-1zM429 33h1v1h-1zM445 33h1v1h-1zM49 34h1v1h-1zM78 34h1v1h-1zM132 34h1v1h-1zM148 34h1v1h-1zM195 34h1v1h-1zM237 34h1v1h-1zM306 34h1v1h-1zM341 34h1v1h-1zM415 34h1v1h-1zM445 34h1v1h-1zM49 35h1v1h-1zM118 35h1v1h-1zM148 35h1v1h-1zM225 35h1v1h-1zM276 35h1v1h-1zM330 35h1v1h-1zM393 35h1v1h-1zM435 35h1v1h-1zM445 35h1v1h-1zM49 36h1v1h-1zM96 36h1v1h-1zM138 36h1v1h-1zM207 36h1v1h-1zM242 36h1v1h-1zM247 36h1v1h-1zM346 36h1v1h-1zM423 36h1v1h-1zM445 36h1v1h-1zM49 37h1v1h-1zM126 37h1v1h-1zM177 37h1v1h-1zM231 37h1v1h-1zM294 37h1v1h-1zM336 37h1v1h-1zM405 37h1v1h-1zM440 37h1v1h-1zM445 37h1v1h-1zM49 38h1v1h-1zM108 38h1v1h-1zM143 38h1v1h-1zM217 38h1v1h-1zM247 38h1v1h-1zM346 38h1v1h-1zM375 38h1v1h-1zM429 38h1v1h-1zM445 38h1v1h-1zM49 39h1v1h-1zM78 39h1v1h-1zM132 39h1v1h-1zM148 39h1v1h-1zM195 39h1v1h-1zM237 39h1v1h-1zM306 39h1v1h-1zM341 39h1v1h-1zM415 39h1v1h-1zM445 39h1v1h-1zM49 40h1v1h-1zM118 40h1v1h-1zM148 40h1v1h-1zM225 40h1v1h-1zM276 40h1v1h-1zM393 40h1v1h-1zM435 40h1v1h-1zM445 40h1v1h-1zM49 41h1v1h-1zM96 41h1v1h-1zM138 41h1v1h-1zM207 41h1v1h-1zM242 41h1v1h-1zM247 41h1v1h-1zM316 41h1v1h-1zM346 41h1v1h-1zM423 41h1v1h-1zM445 41h1v1h-1zM49 42h1v1h-1zM126 42h1v1h-1zM177 42h1v1h-1zM231 42h1v1h-1zM294 42h1v1h-1zM336 42h1v1h-1zM405 42h1v1h-1zM440 42h1v1h-1zM445 42h1v1h-1zM49 43h1v1h-1zM108 43h1v1h-1zM143 43h1v1h-1zM217 43h1v1h-1zM247 43h1v1h-1zM324 43h1v1h-1zM346 43h1v1h-1zM375 43h1v1h-1zM429 43h1v1h-1zM445 43h1v1h-1zM49 44h1v1h-1zM78 44h1v1h-1zM132 44h1v1h-1zM148 44h1v1h-1zM195 44h1v1h-1zM237 44h1v1h-1zM306 44h1v1h-1zM341 44h1v1h-1zM415 44h1v1h-1zM445 44h1v1h-1zM49 45h1v1h-1zM118 45h1v1h-1zM148 45h1v1h-1zM225 45h1v1h-1zM276 45h1v1h-1zM330 45h1v1h-1zM393 45h1v1h-1zM435 45h1v1h-1zM445 45h1v1h-1zM49 46h1v1h-1zM96 46h1v1h-1zM138 46h1v1h-1zM207 46h1v1h-1zM242 46h1v1h-1zM247 46h1v1h-1zM316 46h1v1h-1zM346 46h1v1h-1zM423 46h1v1h-1zM445 46h1v1h-1zM49 47h1v1h-1zM126 47h1v1h-1zM177 47h1v1h-1zM231 47h1v1h-1zM294 47h1v1h-1zM336 47h1v1h-1zM405 47h1v1h-1zM440 47h1v1h-1zM445 47h1v1h-1zM49 48h1v1h-1zM108 48h1v1h-1zM143 48h1v1h-1zM217 48h1v1h-1zM247 48h1v1h-1zM324 48h1v1h-1zM346 48h1v1h-1zM375 48h1v1h-1zM429 48h1v1h-1zM445 48h1v1h-1zM49 49h1v1h-1zM78 49h1v1h-1zM132 49h1v1h-1zM148 49h1v1h-1zM195 49h1v1h-1zM237 49h1v1h-1zM306 49h1v1h-1zM341 49h1v1h-1zM415 49h1v1h-1zM445 49h1v1h-1zM49 50h1v1h-1zM118 50h1v1h-1zM148 50h1v1h-1zM225 50h1v1h-1zM276 50h1v1h-1zM330 50h1v1h-1zM393 50h1v1h-1zM435 50h1v1h-1zM445 50h1v1h-1zM49 51h1v1h-1zM96 51h1v1h-1zM138 51h1v1h-1zM207 51h1v1h-1zM242 51h1v1h-1zM247 51h1v1h-1zM316 51h1v1h-1zM346 51h1v1h-1zM423 51h1v1h-1zM445 51h1v1h-1zM49 52h1v1h-1zM126 52h1v1h-1zM177 52h1v1h-1zM231 52h1v1h-1zM294 52h1v1h-1zM336 52h1v1h-1zM405 52h1v1h-1zM440 52h1v1h-1zM445 52h1v1h-1zM49 53h1v1h-1zM108 53h1v1h-1zM143 53h1v1h-1zM217 53h1v1h-1zM247 53h1v1h-1zM324 53h1v1h-1zM346 53h1v1h-1zM375 53h1v1h-1zM429 53h1v1h-1zM445 53h1v1h-1zM49 54h1v1h-1zM78 54h1v1h-1zM132 54h1v1h-1zM148 54h1v1h-1zM195 54h1v1h-1zM237 54h1v1h-1zM306 54h1v1h-1zM341 54h1v1h-1zM415 54h1v1h-1zM445 54h1v1h-1zM49 55h1v1h-1zM118 55h1v1h-1zM148 55h1v1h-1zM225 55h1v1h-1zM276 55h1v1h-1zM330 55h1v1h-1zM393 55h1v1h-1zM435 55h1v1h-1zM445 55h1v1h-1zM49 56h1v1h-1zM96 56h1v1h-1zM138 56h1v1h-1zM207 56h1v1h-1zM242 56h1v1h-1zM247 56h1v1h-1zM316 56h1v1h-1zM346 56h1v1h-1zM423 56h1v1h-1zM445 56h1v1h-1zM49 57h1v1h-1zM126 57h1v1h-1zM177 57h1v1h-1zM231 57h1v1h-1zM294 57h1v1h-1zM336 57h1v1h-1zM405 57h1v1h-1zM440 57h1v1h-1zM445 57h1v1h-1zM49 58h1v1h-1zM108 58h1v1h-1zM143 58h1v1h-1zM217 58h1v1h-1zM247 58h1v1h-1zM324 58h1v1h-1zM346 58h1v1h-1zM375 58h1v1h-1zM429 58h1v1h-1zM445 58h1v1h-1zM49 59h1v1h-1zM78 59h1v1h-1zM132 59h1v1h-1zM148 59h1v1h-1zM195 59h1v1h-1zM237 59h1v1h-1zM306 59h1v1h-1zM341 59h1v1h-1zM415 59h1v1h-1zM445 59h1v1h-1zM49 60h1v1h-1zM118 60h1v1h-1zM148 60h1v1h-1zM225 60h1v1h-1zM276 60h1v1h-1zM330 60h1v1h-1zM393 60h1v1h-1zM435 60h1v1h-1zM445 60h1v1h-1zM49 61h1v1h-1zM96 61h1v1h-1zM138 61h1v1h-1zM207 61h1v1h-1zM242 61h1v1h-1zM247 61h1v1h-1zM316 61h1v1h-1zM346 61h1v1h-1zM423 61h1v1h-1zM445 61h1v1h-1zM49 62h1v1h-1zM126 62h1v1h-1zM177 62h1v1h-1zM231 62h1v1h-1zM294 62h1v1h-1zM336 62h1v1h-1zM405 62h1v1h-1zM440 62h1v1h-1zM445 62h1v1h-1zM49 63h1v1h-1zM108 63h1v1h-1zM143 63h1v1h-1zM217 63h1v1h-1zM247 63h1v1h-1zM324 63h1v1h-1zM346 63h1v1h-1zM429 63h1v1h-1zM445 63h1v1h-1zM49 64h1v1h-1zM78 64h1v1h-1zM132 64h1v1h-1zM148 64h1v1h-1zM195 64h1v1h-1zM237 64h1v1h-1zM306 64h1v1h-1zM341 64h1v1h-1zM415 64h1v1h-1zM445 64h1v1h-1zM49 65h1v1h-1zM118 65h1v1h-1zM148 65h1v1h-1zM225 65h1v1h-1zM276 65h1v1h-1zM330 65h1v1h-1zM393 65h1v1h-1zM435 65h1v1h-1zM445 65h1v1h-1zM49 66h1v1h-1zM96 66h1v1h-1zM138 66h1v1h-1zM207 66h1v1h-1zM242 66h1v1h-1zM247 66h1v1h-1zM316 66h1v1h-1zM346 66h1v1h-1zM423 66h1v1h-1zM445 66h1v1h-1zM49 67h1v1h-1zM126 67h1v1h-1zM177 67h1v1h-1zM231 67h1v1h-1zM294 67h1v1h-1zM336 67h1v1h-1zM405 67h1v1h-1zM440 67h1v1h-1zM445 67h1v1h-1zM49 68h1v1h-1zM108 68h1v1h-1zM143 68h1v1h-1zM217 68h1v1h-1zM247 68h1v1h-1zM324 68h1v1h-1zM346 68h1v1h-1zM375 68h1v1h-1zM429 68h1v1h-1zM445 68h1v1h-1zM49 69h1v1h-1zM78 69h1v1h-1zM132 69h1v1h-1zM148 69h1v1h-1zM195 69h1v1h-1zM237 69h1v1h-1zM306 69h1v1h-1zM341 69h1v1h-1zM415 69h1v1h-1zM445 69h1v1h-1zM49 70h1v1h-1zM118 70h1v1h-1zM148 70h1v1h-1zM225 70h1v1h-1zM276 70h1v1h-1zM330 70h1v1h-1zM435 70h1v1h-1zM445 70h1v1h-1zM49 71h1v1h-1zM96 71h1v1h-1zM138 71h1v1h-1zM207 71h1v1h-1zM242 71h1v1h-1zM247 71h1v1h-1zM316 71h1v1h-1zM346 71h1v1h-1zM423 71h1v1h-1zM445 71h1v1h-1zM49 72h1v1h-1zM126 72h1v1h-1zM177 72h1v1h-1zM231 72h1v1h-1zM294 72h1v1h-1zM336 72h1v1h-1zM405 72h1v1h-1zM440 72h1v1h-1zM445 72h1v1h-1zM49 73h1v1h-1zM108 73h1v1h-1zM143 73h1v1h-1zM217 73h1v1h-1zM247 73h1v1h-1zM324 73h1v1h-1zM346 73h1v1h-1zM375 73h1v1h-1zM429 73h1v1h-1zM445 73h1v1h-1zM49 74h1v1h-1zM78 74h1v1h-1zM132 74h1v1h-1zM148 74h1v1h-1zM195 74h1v1h-1zM237 74h1v1h-1zM306 74h1v1h-1zM341 74h1v1h-1zM415 74h1v1h-1zM445 74h1v1h-1zM49 75h1v1h-1zM118 75h1v1h-1zM148 75h1v1h-1zM225 75h1v1h-1zM276 75h1v1h-1zM330 75h1v1h-1zM393 75h1v1h-1zM435 75h1v1h-1zM445 75h1v1h-1zM49 76h1v1h-1zM55 76h127v1h-127zM207 76h1v1h-1zM242 76h1v1h-1zM247 76h1v1h-1zM316 76h1v1h-1zM346 76h1v1h-1zM423 76h1v1h-1zM445 76h1v1h-1zM49 77h1v1h-1zM55 77h1v1h-1zM181 77h1v1h-1zM231 77h1v1h-1zM294 77h1v1h-1zM336 77h1v1h-1zM405 77h1v1h-1zM440 77h1v1h-1zM445 77h1v1h-1zM49 78h7v1h-7zM181 78h1v1h-1zM184 78h1v1h-1zM189 78h1v1h-1zM194 78h1v1h-1zM199 78h1v1h-1zM204 78h1v1h-1zM209 78h1v1h-1zM214 78h1v1h-1zM217 78h1v1h-1zM219 78h1v1h-1zM224 78h1v1h-1zM229 78h1v1h-1zM234 78h1v1h-1zM239 78h1v1h-1zM244 78h1v1h-1zM247 78h1v1h-1zM249 78h1v1h-1zM254 78h1v1h-1zM259 78h1v1h-1zM264 78h1v1h-1zM269 78h1v1h-1zM274 78h1v1h-1zM279 78h1v1h-1zM284 78h1v1h-1zM289 78h1v1h-1zM294 78h1v1h-1zM299 78h1v1h-1zM304 78h1v1h-1zM309 78h1v1h-1zM314 78h1v1h-1zM319 78h1v1h-1zM324 78h1v1h-1zM329 78h1v1h-1zM334 78h1v1h-1zM339 78h1v1h-1zM344 78h1v1h-1zM346 78h1v1h-1zM349 78h1v1h-1zM354 78h1v1h-1zM359 78h1v1h-1zM364 78h1v1h-1zM369 78h1v1h-1zM374 78h2v1h-2zM379 78h1v1h-1zM384 78h1v1h-1zM389 78h1v1h-1zM394 78h1v1h-1zM399 78h1v1h-1zM404 78h1v1h-1zM409 78h1v1h-1zM414 78h1v1h-1zM419 78h1v1h-1zM424 78h1v1h-1zM429 78h1v1h-1zM434 78h1v1h-1zM439 78h1v1h-1zM441 78h5v1h-5zM49 79h1v1h-1zM55 79h1v1h-1zM181 79h1v1h-1zM195 79h1v1h-1zM237 79h1v1h-1zM306 79h1v1h-1zM341 79h1v1h-1zM415 79h1v1h-1zM445 79h1v1h-1zM49 80h1v1h-1zM55 80h1v1h-1zM181 80h1v1h-1zM225 80h1v1h-1zM276 80h1v1h-1zM330 80h1v1h-1zM393 80h1v1h-1zM435 80h1v1h-1zM445 80h1v1h-1zM49 81h1v1h-1zM55 81h1v1h-1zM181 81h1v1h-1zM207 81h1v1h-1zM242 81h1v1h-1zM247 81h1v1h-1zM316 81h1v1h-1zM346 81h1v1h-1zM423 81h1v1h-1zM445 81h1v1h-1zM49 82h1v1h-1zM55 82h1v1h-1zM181 82h1v1h-1zM231 82h1v1h-1zM294 82h1v1h-1zM336 82h1v1h-1zM405 82h1v1h-1zM440 82h1v1h-1zM445 82h1v1h-1zM49 83h1v1h-1zM55 83h1v1h-1zM181 83h1v1h-1zM217 83h1v1h-1zM247 83h1v1h-1zM324 83h1v1h-1zM346 83h1v1h-1zM375 83h1v1h-1zM429 83h1v1h-1zM445 83h1v1h-1zM49 84h1v1h-1zM55 84h1v1h-1zM181 84h1v1h-1zM195 84h1v1h-1zM237 84h1v1h-1zM306 84h1v1h-1zM341 84h1v1h-1zM415 84h1v1h-1zM445 84h1v1h-1zM49 85h1v1h-1zM55 85h1v1h-1zM181 85h1v1h-1zM225 85h1v1h-1zM276 85h1v1h-1zM330 85h1v1h-1zM393 85h1v1h-1zM435 85h1v1h-1zM445 85h1v1h-1zM49 86h1v1h-1zM55 86h1v1h-1zM181 86h1v1h-1zM207 86h1v1h-1zM242 86h1v1h-1zM247 86h1v1h-1zM316 86h1v1h-1zM346 86h1v1h-1zM445 86h1v1h-1zM49 87h1v1h-1zM55 87h1v1h-1zM181 87h1v1h-1zM231 87h1v1h-1zM294 87h1v1h-1zM336 87h1v1h-1zM405 87h1v1h-1zM440 87h1v1h-1zM445 87h1v1h-1zM49 88h1v1h-1zM55 88h1v1h-1zM181 88h1v1h-1zM217 88h1v1h-1zM247 88h1v1h-1zM324 88h1v1h-1zM346 88h1v1h-1zM375 88h1v1h-1zM429 88h1v1h-1zM445 88h1v1h-1zM49 89h1v1h-1zM55 89h1v1h-1zM181 89h1v1h-1zM195 89h1v1h-1zM237 89h1v1h-1zM306 89h1v1h-1zM341 89h1v1h-1zM415 89h1v1h-1zM445 89h1v1h-1zM49 90h1v1h-1zM55 90h1v1h-1zM181 90h1v1h-1zM225 90h1v1h-1zM276 90h1v1h-1zM330 90h1v1h-1zM393 90h1v1h-1zM435 90h1v1h-1zM445 90h1v1h-1zM49 91h1v1h-1zM55 91h1v1h-1zM181 91h1v1h-1zM207 91h1v1h-1zM242 91h1v1h-1zM247 91h1v1h-1zM316 91h1v1h-1zM346 91h1v1h-1zM423 91h1v1h-1zM445 91h1v1h-1zM49 92h1v1h-1zM55 92h1v1h-1zM181 92h1v1h-1zM231 92h1v1h-1zM294 92h1v1h-1zM336 92h1v1h-1zM405 92h1v1h-1zM440 92h1v1h-1zM445 92h1v1h-1zM49 93h1v1h-1zM55 93h1v1h-1zM181 93h1v1h-1zM217 93h1v1h-1zM247 93h1v1h-1zM324 93h1v1h-1zM346 93h1v1h-1zM375 93h1v1h-1zM429 93h1v1h-1zM445 93h1v1h-1zM49 94h1v1h-1zM55 94h1v1h-1zM181 94h1v1h-1zM195 94h1v1h-1zM237 94h1v1h-1zM306 94h1v1h-1zM341 94h1v1h-1zM415 94h1v1h-1zM445 94h1v1h-1zM49 95h1v1h-1zM55 95h1v1h-1zM181 95h1v1h-1zM225 95h1v1h-1zM276 95h1v1h-1zM330 95h1v1h-1zM393 95h1v1h-1zM435 95h1v1h-1zM445 95h1v1h-1zM49 96h1v1h-1zM55 96h1v1h-1zM181 96h1v1h-1zM207 96h1v1h-1zM242 96h1v1h-1zM247 96h1v1h-1zM316 96h1v1h-1zM346 96h1v1h-1zM423 96h1v1h-1zM445 96h1v1h-1zM49 97h1v1h-1zM55 97h1v1h-1zM181 97h1v1h-1zM231 97h1v1h-1zM294 97h1v1h-1zM336 97h1v1h-1zM405 97h1v1h-1zM440 97h1v1h-1zM445 97h1v1h-1zM49 98h1v1h-1zM55 98h1v1h-1zM181 98h1v1h-1zM217 98h1v1h-1zM247 98h1v1h-1zM324 98h1v1h-1zM346 98h1v1h-1zM375 98h1v1h-1zM429 98h1v1h-1zM445 98h1v1h-1zM49 99h1v1h-1zM55 99h1v1h-1zM181 99h1v1h-1zM195 99h1v1h-1zM237 99h1v1h-1zM306 99h1v1h-1zM341 99h1v1h-1zM415 99h1v1h-1zM445 99h1v1h-1zM49 100h1v1h-1zM55 100h1v1h-1zM181 100h1v1h-1zM225 100h1v1h-1zM276 100h1v1h-1zM330 100h1v1h-1zM393 100h1v1h-1zM435 100h1v1h-1zM445 100h1v1h-1zM49 101h1v1h-1zM55 101h1v1h-1zM181 101h1v1h-1zM207 101h1v1h-1zM242 101h1v1h-1zM247 101h1v1h-1zM316 101h1v1h-1zM346 101h1v1h-1zM423 101h1v1h-1zM445 101h1v1h-1zM49 102h1v1h-1zM55 102h1v1h-1zM181 102h1v1h-1zM231 102h1v1h-1zM294 102h1v1h-1zM336 102h1v1h-1zM405 102h1v1h-1zM440 102h1v1h-1zM445 102h1v1h-1zM49 103h1v1h-1zM55 103h1v1h-1zM181 103h1v1h-1zM217 103h1v1h-1zM247 103h1v1h-1zM324 103h1v1h-1zM346 103h1v1h-1zM375 103h1v1h-1zM429 103h1v1h-1zM445 103h1v1h-1zM49 104h1v1h-1zM55 104h1v1h-1zM181 104h1v1h-1zM195 104h1v1h-1zM237 104h1v1h-1zM306 104h1v1h-1zM341 104h1v1h-1zM415 104h1v1h-1zM445 104h1v1h-1zM49 105h1v1h-1zM55 105h1v1h-1zM181 105h1v1h-1zM225 105h1v1h-1zM276 105h1v1h-1zM330 105h1v1h-1zM393 105h1v1h-1zM435 105h1v1h-1zM445 105h1v1h-1zM49 106h1v1h-1zM55 106h1v1h-1zM181 106h1v1h-1zM207 106h1v1h-1zM242 106h1v1h-1zM247 106h1v1h-1zM316 106h1v1h-1zM346 106h1v1h-1zM423 106h1v1h-1zM445 106h1v1h-1zM49 107h1v1h-1zM55 107h1v1h-1zM181 107h1v1h-1zM231 107h1v1h-1zM294 107h1v1h-1zM336 107h1v1h-1zM405 107h1v1h-1zM440 107h1v1h-1zM445 107h1v1h-1zM49 108h1v1h-1zM55 108h1v1h-1zM181 108h1v1h-1zM217 108h1v1h-1zM247 108h1v1h-1zM324 108h1v1h-1zM346 108h1v1h-1zM375 108h1v1h-1zM429 108h1v1h-1zM445 108h1v1h-1zM49 109h1v1h-1zM55 109h1v1h-1zM181 109h1v1h-1zM195 109h1v1h-1zM237 109h1v1h-1zM306 109h1v1h-1zM341 109h1v1h-1zM415 109h1v1h-1zM445 109h1v1h-1zM49 110h1v1h-1zM55 110h1v1h-1zM181 110h1v1h-1zM225 110h1v1h-1zM276 110h1v1h-1zM330 110h1v1h-1zM393 110h1v1h-1zM435 110h1v1h-1zM445 110h1v1h-1zM49 111h1v1h-1zM55 111h1v1h-1zM181 111h1v1h-1zM207 111h1v1h-1zM242 111h1v1h-1zM247 111h1v1h-1zM316 111h1v1h-1zM346 111h1v1h-1zM423 111h1v1h-1zM445 111h1v1h-1zM49 112h1v1h-1zM55 112h1v1h-1zM181 112h1v1h-1zM231 112h1v1h-1zM294 112h1v1h-1zM336 112h1v1h-1zM405 112h1v1h-1zM440 112h1v1h-1zM445 112h1v1h-1zM49 113h1v1h-1zM55 113h1v1h-1zM181 113h1v1h-1zM217 113h1v1h-1zM247 113h1v1h-1zM324 113h1v1h-1zM346 113h1v1h-1zM375 113h1v1h-1zM429 113h1v1h-1zM445 113h1v1h-1zM49 114h1v1h-1zM55 114h1v1h-1zM181 114h1v1h-1zM195 114h1v1h-1zM237 114h1v1h-1zM306 114h1v1h-1zM341 114h1v1h-1zM415 114h1v1h-1zM445 114h1v1h-1zM49 115h1v1h-1zM55 115h1v1h-1zM181 115h1v1h-1zM225 115h1v1h-1zM276 115h1v1h-1zM330 115h1v1h-1zM393 115h1v1h-1zM435 115h1v1h-1zM445 115h1v1h-1zM49 116h1v1h-1zM55 116h1v1h-1zM181 116h1v1h-1zM207 116h1v1h-1zM242 116h1v1h-1zM247 116h1v1h-1zM316 116h1v1h-1zM346 116h1v1h-1zM423 116h1v1h-1zM445 116h1v1h-1zM49 117h1v1h-1zM55 117h1v1h-1zM181 117h1v1h-1zM231 117h1v1h-1zM294 117h1v1h-1zM336 117h1v1h-1zM405 117h1v1h-1zM440 117h1v1h-1zM445 117h1v1h-1zM49 118h1v1h-1zM55 118h1v1h-1zM181 118h1v1h-1zM217 118h1v1h-1zM247 118h1v1h-1zM324 118h1v1h-1zM346 118h1v1h-1zM375 118h1v1h-1zM429 118h1v1h-1zM445 118h1v1h-1zM49 119h1v1h-1zM55 119h1v1h-1zM181 119h1v1h-1zM195 119h1v1h-1zM237 119h1v1h-1zM306 119h1v1h-1zM341 119h1v1h-1zM415 119h1v1h-1zM445 119h1v1h-1zM49 120h1v1h-1zM55 120h1v1h-1zM181 120h1v1h-1zM225 120h1v1h-1zM276 120h1v1h-1zM330 120h1v1h-1zM393 120h1v1h-1zM435 120h1v1h-1zM445 120h1v1h-1zM49 121h1v1h-1zM55 121h1v1h-1zM181 121h1v1h-1zM207 121h1v1h-1zM242 121h1v1h-1zM247 121h1v1h-1zM316 121h1v1h-1zM346 121h1v1h-1zM423 121h1v1h-1zM445 121h1v1h-1zM49 122h1v1h-1zM55 122h127v1h-127zM231 122h1v1h-1zM294 122h1v1h-1zM336 122h1v1h-1zM405 122h1v1h-1zM440 122h1v1h-1zM445 122h1v1h-1zM49 123h1v1h-1zM108 123h1v1h-1zM143 123h1v1h-1zM148 123h1v1h-1zM217 123h1v1h-1zM247 123h1v1h-1zM324 123h1v1h-1zM346 123h1v1h-1zM375 123h1v1h-1zM429 123h1v1h-1zM445 123h1v1h-1zM49 124h1v1h-1zM78 124h1v1h-1zM132 124h1v1h-1zM148 124h1v1h-1zM195 124h1v1h-1zM237 124h1v1h-1zM247 124h1v1h-1zM306 124h1v1h-1zM341 124h1v1h-1zM346 124h1v1h-1zM415 124h1v1h-1zM445 124h1v1h-1zM49 125h1v1h-1zM78 125h1v1h-1zM96 125h1v1h-1zM108 125h1v1h-1zM118 125h1v1h-1zM126 125h1v1h-1zM132 125h1v1h-1zM138 125h1v1h-1zM143 125h1v1h-1zM148 125h1v1h-1zM177 125h1v1h-1zM195 125h1v1h-1zM207 125h1v1h-1zM217 125h1v1h-1zM225 125h1v1h-1zM231 125h1v1h-1zM237 125h1v1h-1zM242 125h1v1h-1zM247 125h1v1h-1zM276 125h1v1h-1zM294 125h1v1h-1zM306 125h1v1h-1zM316 125h1v1h-1zM324 125h1v1h-1zM330 125h1v1h-1zM336 125h1v1h-1zM341 125h1v1h-1zM346 125h1v1h-1zM375 125h1v1h-1zM393 125h1v1h-1zM405 125h1v1h-1zM415 125h1v1h-1zM423 125h1v1h-1zM429 125h1v1h-1zM435 125h1v1h-1zM440 125h1v1h-1zM445 125h1v1h-1zM49 126h1v1h-1zM78 126h1v1h-1zM96 126h1v1h-1zM108 126h1v1h-1zM118 126h1v1h-1zM126 126h1v1h-1zM132 126h1v1h-1zM138 126h1v1h-1zM143 126h1v1h-1zM148 126h1v1h-1zM177 126h1v1h-1zM195 126h1v1h-1zM207 126h1v1h-1zM217 126h1v1h-1zM225 126h1v1h-1zM231 126h1v1h-1zM237 126h1v1h-1zM242 126h1v1h-1zM247 126h1v1h-1zM276 126h1v1h-1zM294 126h1v1h-1zM306 126h1v1h-1zM316 126h1v1h-1zM324 126h1v1h-1zM330 126h1v1h-1zM336 126h1v1h-1zM341 126h1v1h-1zM346 126h1v1h-1zM375 126h1v1h-1zM393 126h1v1h-1zM405 126h1v1h-1zM415 126h1v1h-1zM423 126h1v1h-1zM429 126h1v1h-1zM435 126h1v1h-1zM440 126h1v1h-1zM445 126h1v1h-1zM49 127h397v1h-397zM49 187h397v1h-397zM49 188h5v1h-5zM58 188h1v1h-1zM63 188h1v1h-1zM68 188h1v1h-1zM73 188h1v1h-1zM78 188h1v1h-1zM83 188h1v1h-1zM88 188h1v1h-1zM93 188h1v1h-1zM96 188h1v1h-1zM98 188h1v1h-1zM103 188h1v1h-1zM108 188h1v1h-1zM113 188h1v1h-1zM118 188h1v1h-1zM123 188h1v1h-1zM126 188h1v1h-1zM128 188h1v1h-1zM132 188h2v1h-2zM138 188h1v1h-1zM143 188h1v1h-1zM148 188h1v1h-1zM153 188h1v1h-1zM158 188h1v1h-1zM163 188h1v1h-1zM168 188h1v1h-1zM173 188h1v1h-1zM177 188h2v1h-2zM183 188h1v1h-1zM188 188h1v1h-1zM193 188h1v1h-1zM195 188h1v1h-1zM198 188h1v1h-1zM203 188h1v1h-1zM207 188h2v1h-2zM213 188h1v1h-1zM217 188h2v1h-2zM223 188h1v1h-1zM225 188h1v1h-1zM228 188h1v1h-1zM231 188h1v1h-1zM233 188h1v1h-1zM237 188h2v1h-2zM242 188h2v1h-2zM247 188h2v1h-2zM253 188h1v1h-1zM258 188h1v1h-1zM263 188h1v1h-1zM268 188h1v1h-1zM273 188h1v1h-1zM276 188h1v1h-1zM278 188h1v1h-1zM283 188h1v1h-1zM288 188h1v1h-1zM293 188h2v1h-2zM298 188h1v1h-1zM303 188h1v1h-1zM306 188h1v1h-1zM308 188h1v1h-1zM313 188h1v1h-1zM316 188h1v1h-1zM318 188h1v1h-1zM323 188h2v1h-2zM328 188h1v1h-1zM330 188h1v1h-1zM333 188h1v1h-1zM336 188h1v1h-1zM338 188h1v1h-1zM341 188h1v1h-1zM343 188h1v1h-1zM346 188h1v1h-1zM348 188h1v1h-1zM353 188h1v1h-1zM358 188h1v1h-1zM363 188h1v1h-1zM368 188h1v1h-1zM373 188h1v1h-1zM375 188h1v1h-1zM378 188h1v1h-1zM383 188h1v1h-1zM388 188h1v1h-1zM393 188h1v1h-1zM398 188h1v1h-1zM403 188h1v1h-1zM405 188h1v1h-1zM408 188h1v1h-1zM413 188h1v1h-1zM415 188h1v1h-1zM418 188h1v1h-1zM423 188h1v1h-1zM428 188h2v1h-2zM433 188h1v1h-1zM435 188h1v1h-1zM438 188h1v1h-1zM440 188h6v1h-6zM49 189h1v1h-1zM126 189h1v1h-1zM148 189h1v1h-1zM177 189h1v1h-1zM231 189h1v1h-1zM247 189h1v1h-1zM294 189h1v1h-1zM336 189h1v1h-1zM346 189h1v1h-1zM405 189h1v1h-1zM440 189h1v1h-1zM445 189h1v1h-1zM49 190h1v1h-1zM108 190h1v1h-1zM143 190h1v1h-1zM148 190h1v1h-1zM217 190h1v1h-1zM247 190h1v1h-1zM324 190h1v1h-1zM346 190h1v1h-1zM375 190h1v1h-1zM429 190h1v1h-1zM445 190h1v1h-1zM49 191h1v1h-1zM132 191h1v1h-1zM148 191h1v1h-1zM195 191h1v1h-1zM237 191h1v1h-1zM306 191h1v1h-1zM341 191h1v1h-1zM415 191h1v1h-1zM445 191h1v1h-1zM49 192h1v1h-1zM118 192h1v1h-1zM148 192h1v1h-1zM225 192h1v1h-1zM276 192h1v1h-1zM330 192h1v1h-1zM393 192h1v1h-1zM435 192h1v1h-1zM445 192h1v1h-1zM49 193h1v1h-1zM96 193h1v1h-1zM138 193h1v1h-1zM207 193h1v1h-1zM242 193h1v1h-1zM247 193h1v1h-1zM316 193h1v1h-1zM346 193h1v1h-1zM423 193h1v1h-1zM445 193h1v1h-1zM49 194h1v1h-1zM126 194h1v1h-1zM177 194h1v1h-1zM231 194h1v1h-1zM294 194h1v1h-1zM336 194h1v1h-1zM405 194h1v1h-1zM440 194h1v1h-1zM445 194h1v1h-1zM49 195h1v1h-1zM143 195h1v1h-1zM217 195h1v1h-1zM247 195h1v1h-1zM324 195h1v1h-1zM346 195h1v1h-1zM375 195h1v1h-1zM429 195h1v1h-1zM445 195h1v1h-1zM49 196h1v1h-1zM78 196h1v1h-1zM132 196h1v1h-1zM148 196h1v1h-1zM195 196h1v1h-1zM237 196h1v1h-1zM306 196h1v1h-1zM341 196h1v1h-1zM415 196h1v1h-1zM445 196h1v1h-1zM49 197h1v1h-1zM148 197h1v1h-1zM225 197h1v1h-1zM276 197h1v1h-1zM330 197h1v1h-1zM393 197h1v1h-1zM435 197h1v1h-1zM445 197h1v1h-1zM49 198h1v1h-1zM138 198h1v1h-1zM207 198h1v1h-1zM242 198h1v1h-1zM247 198h1v1h-1zM316 198h1v1h-1zM346 198h1v1h-1zM423 198h1v1h-1zM445 198h1v1h-1zM49 199h1v1h-1zM126 199h1v1h-1zM177 199h1v1h-1zM231 199h1v1h-1zM294 199h1v1h-1zM336 199h1v1h-1zM405 199h1v1h-1zM440 199h1v1h-1zM445 199h1v1h-1zM49 200h1v1h-1zM108 200h1v1h-1zM217 200h1v1h-1zM247 200h1v1h-1zM324 200h1v1h-1zM346 200h1v1h-1zM375 200h1v1h-1zM429 200h1v1h-1zM445 200h1v1h-1zM49 201h1v1h-1zM78 201h1v1h-1zM195 201h1v1h-1zM237 201h1v1h-1zM306 201h1v1h-1zM341 201h1v1h-1zM415 201h1v1h-1zM445 201h1v1h-1zM49 202h1v1h-1zM118 202h1v1h-1zM225 202h1v1h-1zM276 202h1v1h-1zM330 202h1v1h-1zM393 202h1v1h-1zM435 202h1v1h-1zM445 202h1v1h-1zM49 203h1v1h-1zM96 203h1v1h-1zM138 203h1v1h-1zM207 203h1v1h-1zM242 203h1v1h-1zM247 203h1v1h-1zM316 203h1v1h-1zM346 203h1v1h-1zM423 203h1v1h-1zM445 203h1v1h-1zM49 204h1v1h-1zM126 204h1v1h-1zM177 204h1v1h-1zM231 204h1v1h-1zM294 204h1v1h-1zM336 204h1v1h-1zM405 204h1v1h-1zM440 204h1v1h-1zM445 204h1v1h-1zM49 205h1v1h-1zM108 205h1v1h-1zM143 205h1v1h-1zM217 205h1v1h-1zM247 205h1v1h-1zM324 205h1v1h-1zM346 205h1v1h-1zM375 205h1v1h-1zM429 205h1v1h-1zM445 205h1v1h-1zM49 206h1v1h-1zM78 206h1v1h-1zM132 206h1v1h-1zM148 206h1v1h-1zM237 206h1v1h-1zM306 206h1v1h-1zM341 206h1v1h-1zM415 206h1v1h-1zM445 206h1v1h-1zM49 207h1v1h-1zM118 207h1v1h-1zM148 207h1v1h-1zM225 207h1v1h-1zM276 207h1v1h-1zM330 207h1v1h-1zM393 207h1v1h-1zM435 207h1v1h-1zM445 207h1v1h-1zM49 208h1v1h-1zM96 208h1v1h-1zM138 208h1v1h-1zM207 208h1v1h-1zM242 208h1v1h-1zM247 208h1v1h-1zM316 208h1v1h-1zM346 208h1v1h-1zM423 208h1v1h-1zM445 208h1v1h-1zM49 209h1v1h-1zM126 209h1v1h-1zM294 209h1v1h-1zM336 209h1v1h-1zM405 209h1v1h-1zM440 209h1v1h-1zM445 209h1v1h-1zM49 210h1v1h-1zM108 210h1v1h-1zM143 210h1v1h-1zM217 210h1v1h-1zM247 210h1v1h-1zM324 210h1v1h-1zM346 210h1v1h-1zM375 210h1v1h-1zM429 210h1v1h-1zM445 210h1v1h-1zM49 211h1v1h-1zM78 211h1v1h-1zM132 211h1v1h-1zM148 211h1v1h-1zM195 211h1v1h-1zM237 211h1v1h-1zM306 211h1v1h-1zM341 211h1v1h-1zM415 211h1v1h-1zM445 211h1v1h-1zM49 212h1v1h-1zM118 212h1v1h-1zM148 212h1v1h-1zM225 212h1v1h-1zM276 212h1v1h-1zM330 212h1v1h-1zM393 212h1v1h-1zM435 212h1v1h-1zM445 212h1v1h-1zM49 213h1v1h-1zM96 213h1v1h-1zM138 213h1v1h-1zM242 213h1v1h-1zM247 213h1v1h-1zM316 213h1v1h-1zM346 213h1v1h-1zM423 213h1v1h-1zM445 213h1v1h-1zM49 214h1v1h-1zM126 214h1v1h-1zM177 214h1v1h-1zM294 214h1v1h-1zM336 214h1v1h-1zM405 214h1v1h-1zM440 214h1v1h-1zM445 214h1v1h-1zM49 215h1v1h-1zM108 215h1v1h-1zM143 215h1v1h-1zM217 215h1v1h-1zM324 215h1v1h-1zM346 215h1v1h-1zM375 215h1v1h-1zM429 215h1v1h-1zM445 215h1v1h-1zM49 216h1v1h-1zM78 216h1v1h-1zM132 216h1v1h-1zM148 216h1v1h-1zM195 216h1v1h-1zM237 216h1v1h-1zM306 216h1v1h-1zM341 216h1v1h-1zM415 216h1v1h-1zM445 216h1v1h-1zM49 217h1v1h-1zM118 217h1v1h-1zM148 217h1v1h-1zM276 217h1v1h-1zM330 217h1v1h-1zM393 217h1v1h-1zM435 217h1v1h-1zM445 217h1v1h-1zM49 218h1v1h-1zM96 218h1v1h-1zM138 218h1v1h-1zM207 218h1v1h-1zM316 218h1v1h-1zM346 218h1v1h-1zM423 218h1v1h-1zM445 218h1v1h-1zM49 219h1v1h-1zM126 219h1v1h-1zM177 219h1v1h-1zM231 219h1v1h-1zM294 219h1v1h-1zM336 219h1v1h-1zM405 219h1v1h-1zM440 219h1v1h-1zM445 219h1v1h-1zM49 220h1v1h-1zM108 220h1v1h-1zM143 220h1v1h-1zM217 220h1v1h-1zM247 220h1v1h-1zM324 220h1v1h-1zM346 220h1v1h-1zM375 220h1v1h-1zM429 220h1v1h-1zM445 220h1v1h-1zM49 221h1v1h-1zM78 221h1v1h-1zM132 221h1v1h-1zM148 221h1v1h-1zM195 221h1v1h-1zM237 221h1v1h-1zM306 221h1v1h-1zM341 221h1v1h-1zM415 221h1v1h-1zM445 221h1v1h-1zM49 222h1v1h-1zM118 222h1v1h-1zM148 222h1v1h-1zM225 222h1v1h-1zM276 222h1v1h-1zM330 222h1v1h-1zM393 222h1v1h-1zM435 222h1v1h-1zM445 222h1v1h-1zM49 223h1v1h-1zM96 223h1v1h-1zM138 223h1v1h-1zM207 223h1v1h-1zM242 223h1v1h-1zM247 223h1v1h-1zM316 223h1v1h-1zM346 223h1v1h-1zM423 223h1v1h-1zM445 223h1v1h-1zM49 224h1v1h-1zM126 224h1v1h-1zM177 224h1v1h-1zM231 224h1v1h-1zM294 224h1v1h-1zM336 224h1v1h-1zM405 224h1v1h-1zM440 224h1v1h-1zM445 224h1v1h-1zM49 225h1v1h-1zM108 225h1v1h-1zM143 225h1v1h-1zM217 225h1v1h-1zM247 225h1v1h-1zM324 225h1v1h-1zM346 225h1v1h-1zM375 225h1v1h-1zM429 225h1v1h-1zM445 225h1v1h-1zM49 226h1v1h-1zM78 226h1v1h-1zM132 226h1v1h-1zM148 226h1v1h-1zM195 226h1v1h-1zM237 226h1v1h-1zM306 226h1v1h-1zM341 226h1v1h-1zM415 226h1v1h-1zM445 226h1v1h-1zM49 227h1v1h-1zM118 227h1v1h-1zM148 227h1v1h-1zM225 227h1v1h-1zM276 227h1v1h-1zM330 227h1v1h-1zM393 227h1v1h-1zM435 227h1v1h-1zM445 227h1v1h-1zM49 228h1v1h-1zM96 228h1v1h-1zM138 228h1v1h-1zM207 228h1v1h-1zM242 228h1v1h-1zM247 228h1v1h-1zM316 228h1v1h-1zM346 228h1v1h-1zM423 228h1v1h-1zM445 228h1v1h-1zM49 229h1v1h-1zM126 229h1v1h-1zM177 229h1v1h-1zM231 229h1v1h-1zM294 229h1v1h-1zM336 229h1v1h-1zM405 229h1v1h-1zM440 229h1v1h-1zM445 229h1v1h-1zM49 230h1v1h-1zM108 230h1v1h-1zM143 230h1v1h-1zM217 230h1v1h-1zM247 230h1v1h-1zM324 230h1v1h-1zM346 230h1v1h-1zM375 230h1v1h-1zM429 230h1v1h-1zM445 230h1v1h-1zM49 231h1v1h-1zM78 231h1v1h-1zM132 231h1v1h-1zM148 231h1v1h-1zM195 231h1v1h-1zM237 231h1v1h-1zM306 231h1v1h-1zM341 231h1v1h-1zM415 231h1v1h-1zM445 231h1v1h-1zM49 232h1v1h-1zM118 232h1v1h-1zM148 232h1v1h-1zM225 232h1v1h-1zM330 232h1v1h-1zM393 232h1v1h-1zM435 232h1v1h-1zM445 232h1v1h-1zM49 233h1v1h-1zM96 233h1v1h-1zM138 233h1v1h-1zM207 233h1v1h-1zM242 233h1v1h-1zM247 233h1v1h-1zM316 233h1v1h-1zM346 233h1v1h-1zM423 233h1v1h-1zM445 233h1v1h-1zM49 234h1v1h-1zM126 234h1v1h-1zM177 234h1v1h-1zM231 234h1v1h-1zM294 234h1v1h-1zM336 234h1v1h-1zM405 234h1v1h-1zM440 234h1v1h-1zM445 234h1v1h-1zM49 235h1v1h-1zM108 235h1v1h-1zM143 235h1v1h-1zM217 235h1v1h-1zM247 235h1v1h-1zM324 235h1v1h-1zM346 235h1v1h-1zM375 235h1v1h-1zM429 235h1v1h-1zM445 235h1v1h-1zM49 236h1v1h-1zM78 236h1v1h-1zM132 236h1v1h-1zM148 236h1v1h-1zM195 236h1v1h-1zM237 236h1v1h-1zM306 236h1v1h-1zM341 236h1v1h-1zM415 236h1v1h-1zM445 236h1v1h-1zM49 237h1v1h-1zM118 237h1v1h-1zM148 237h1v1h-1zM225 237h1v1h-1zM276 237h1v1h-1zM330 237h1v1h-1zM393 237h1v1h-1zM435 237h1v1h-1zM445 237h1v1h-1zM49 238h1v1h-1zM96 238h1v1h-1zM138 238h1v1h-1zM207 238h1v1h-1zM242 238h1v1h-1zM247 238h1v1h-1zM316 238h1v1h-1zM346 238h1v1h-1zM423 238h1v1h-1zM445 238h1v1h-1zM49 239h1v1h-1zM126 239h1v1h-1zM177 239h1v1h-1zM231 239h1v1h-1zM294 239h1v1h-1zM336 239h1v1h-1zM405 239h1v1h-1zM440 239h1v1h-1zM445 239h1v1h-1zM49 240h1v1h-1zM108 240h1v1h-1zM143 240h1v1h-1zM217 240h1v1h-1zM247 240h1v1h-1zM324 240h1v1h-1zM346 240h1v1h-1zM375 240h1v1h-1zM429 240h1v1h-1zM445 240h1v1h-1zM49 241h1v1h-1zM78 241h1v1h-1zM132 241h1v1h-1zM148 241h1v1h-1zM195 241h1v1h-1zM237 241h1v1h-1zM306 241h1v1h-1zM341 241h1v1h-1zM415 241h1v1h-1zM445 241h1v1h-1zM49 242h1v1h-1zM118 242h1v1h-1zM148 242h1v1h-1zM225 242h1v1h-1zM276 242h1v1h-1zM330 242h1v1h-1zM393 242h1v1h-1zM435 242h1v1h-1zM445 242h1v1h-1zM49 243h1v1h-1zM96 243h1v1h-1zM138 243h1v1h-1zM207 243h1v1h-1zM242 243h1v1h-1zM247 243h1v1h-1zM316 243h1v1h-1zM346 243h1v1h-1zM423 243h1v1h-1zM445 243h1v1h-1zM49 244h1v1h-1zM126 244h1v1h-1zM177 244h1v1h-1zM231 244h1v1h-1zM294 244h1v1h-1zM336 244h1v1h-1zM405 244h1v1h-1zM440 244h1v1h-1zM445 244h1v1h-1zM49 245h1v1h-1zM108 245h1v1h-1zM143 245h1v1h-1zM217 245h1v1h-1zM247 245h1v1h-1zM324 245h1v1h-1zM346 245h1v1h-1zM375 245h1v1h-1zM429 245h1v1h-1zM445 245h1v1h-1zM49 246h1v1h-1zM78 246h1v1h-1zM132 246h1v1h-1zM148 246h1v1h-1zM195 246h1v1h-1zM237 246h1v1h-1zM306 246h1v1h-1zM341 246h1v1h-1zM415 246h1v1h-1zM445 246h1v1h-1zM49 247h6v1h-6zM59 247h1v1h-1zM64 247h1v1h-1zM69 247h1v1h-1zM74 247h1v1h-1zM79 247h1v1h-1zM84 247h1v1h-1zM89 247h1v1h-1zM94 247h1v1h-1zM99 247h1v1h-1zM104 247h1v1h-1zM109 247h1v1h-1zM114 247h1v1h-1zM118 247h2v1h-2zM124 247h1v1h-1zM129 247h1v1h-1zM134 247h1v1h-1zM139 247h1v1h-1zM144 247h1v1h-1zM148 247h2v1h-2zM154 247h1v1h-1zM159 247h1v1h-1zM164 247h1v1h-1zM169 247h1v1h-1zM174 247h1v1h-1zM179 247h1v1h-1zM184 247h1v1h-1zM189 247h1v1h-1zM194 247h1v1h-1zM199 247h1v1h-1zM204 247h1v1h-1zM209 247h1v1h-1zM214 247h1v1h-1zM219 247h1v1h-1zM224 247h2v1h-2zM229 247h1v1h-1zM234 247h1v1h-1zM239 247h1v1h-1zM244 247h1v1h-1zM249 247h1v1h-1zM254 247h1v1h-1zM259 247h1v1h-1zM264 247h1v1h-1zM269 247h1v1h-1zM274 247h1v1h-1zM276 247h1v1h-1zM279 247h1v1h-1zM284 247h1v1h-1zM289 247h1v1h-1zM299 247h1v1h-1zM304 247h1v1h-1zM309 247h1v1h-1zM314 247h1v1h-1zM319 247h1v1h-1zM324 247h1v1h-1zM329 247h2v1h-2zM334 247h1v1h-1zM339 247h1v1h-1zM344 247h1v1h-1zM349 247h1v1h-1zM354 247h1v1h-1zM359 247h1v1h-1zM364 247h1v1h-1zM369 247h1v1h-1zM374 247h1v1h-1zM379 247h1v1h-1zM384 247h1v1h-1zM389 247h1v1h-1zM393 247h2v1h-2zM399 247h1v1h-1zM404 247h1v1h-1zM409 247h1v1h-1zM414 247h1v1h-1zM419 247h1v1h-1zM424 247h1v1h-1zM429 247h1v1h-1zM434 247h2v1h-2zM439 247h1v1h-1zM441 247h5v1h-5zM49 248h1v1h-1zM96 248h1v1h-1zM138 248h1v1h-1zM207 248h1v1h-1zM242 248h1v1h-1zM247 248h1v1h-1zM316 248h1v1h-1zM346 248h1v1h-1zM423 248h1v1h-1zM445 248h1v1h-1zM49 249h1v1h-1zM126 249h1v1h-1zM177 249h1v1h-1zM231 249h1v1h-1zM294 249h1v1h-1zM336 249h1v1h-1zM405 249h1v1h-1zM440 249h1v1h-1zM445 249h1v1h-1zM49 250h1v1h-1zM108 250h1v1h-1zM143 250h1v1h-1zM217 250h1v1h-1zM247 250h1v1h-1zM324 250h1v1h-1zM346 250h1v1h-1zM375 250h1v1h-1zM429 250h1v1h-1zM445 250h1v1h-1zM49 251h1v1h-1zM78 251h1v1h-1zM132 251h1v1h-1zM148 251h1v1h-1zM195 251h1v1h-1zM237 251h1v1h-1zM306 251h1v1h-1zM341 251h1v1h-1zM415 251h1v1h-1zM445 251h1v1h-1zM49 252h1v1h-1zM118 252h1v1h-1zM148 252h1v1h-1zM225 252h1v1h-1zM276 252h1v1h-1zM330 252h1v1h-1zM393 252h1v1h-1zM435 252h1v1h-1zM445 252h1v1h-1zM49 253h1v1h-1zM96 253h1v1h-1zM138 253h1v1h-1zM207 253h1v1h-1zM242 253h1v1h-1zM247 253h1v1h-1zM316 253h1v1h-1zM346 253h1v1h-1zM423 253h1v1h-1zM445 253h1v1h-1zM49 254h1v1h-1zM126 254h1v1h-1zM177 254h1v1h-1zM231 254h1v1h-1zM294 254h1v1h-1zM336 254h1v1h-1zM405 254h1v1h-1zM440 254h1v1h-1zM445 254h1v1h-1zM49 255h1v1h-1zM108 255h1v1h-1zM143 255h1v1h-1zM217 255h1v1h-1zM247 255h1v1h-1zM324 255h1v1h-1zM346 255h1v1h-1zM375 255h1v1h-1zM429 255h1v1h-1zM445 255h1v1h-1zM49 256h1v1h-1zM78 256h1v1h-1zM132 256h1v1h-1zM148 256h1v1h-1zM195 256h1v1h-1zM237 256h1v1h-1zM306 256h1v1h-1zM341 256h1v1h-1zM415 256h1v1h-1zM445 256h1v1h-1zM49 257h1v1h-1zM118 257h1v1h-1zM148 257h1v1h-1zM225 257h1v1h-1zM276 257h1v1h-1zM330 257h1v1h-1zM393 257h1v1h-1zM435 257h1v1h-1zM445 257h1v1h-1zM49 258h1v1h-1zM55 258h127v1h-127zM207 258h1v1h-1zM242 258h1v1h-1zM247 258h1v1h-1zM316 258h1v1h-1zM346 258h1v1h-1zM423 258h1v1h-1zM445 258h1v1h-1zM49 259h1v1h-1zM55 259h1v1h-1zM181 259h1v1h-1zM231 259h1v1h-1zM294 259h1v1h-1zM336 259h1v1h-1zM405 259h1v1h-1zM440 259h1v1h-1zM445 259h1v1h-1zM49 260h1v1h-1zM55 260h1v1h-1zM181 260h1v1h-1zM217 260h1v1h-1zM247 260h1v1h-1zM324 260h1v1h-1zM346 260h1v1h-1zM375 260h1v1h-1zM429 260h1v1h-1zM445 260h1v1h-1zM49 261h1v1h-1zM55 261h1v1h-1zM181 261h1v1h-1zM195 261h1v1h-1zM237 261h1v1h-1zM341 261h1v1h-1zM415 261h1v1h-1zM445 261h1v1h-1zM49 262h1v1h-1zM55 262h1v1h-1zM181 262h1v1h-1zM225 262h1v1h-1zM276 262h1v1h-1zM330 262h1v1h-1zM393 262h1v1h-1zM435 262h1v1h-1zM445 262h1v1h-1zM49 263h1v1h-1zM55 263h1v1h-1zM181 263h1v1h-1zM207 263h1v1h-1zM242 263h1v1h-1zM247 263h1v1h-1zM346 263h1v1h-1zM423 263h1v1h-1zM445 263h1v1h-1zM49 264h1v1h-1zM55 264h1v1h-1zM181 264h1v1h-1zM231 264h1v1h-1zM294 264h1v1h-1zM336 264h1v1h-1zM405 264h1v1h-1zM440 264h1v1h-1zM445 264h1v1h-1zM49 265h1v1h-1zM55 265h1v1h-1zM181 265h1v1h-1zM217 265h1v1h-1zM247 265h1v1h-1zM324 265h1v1h-1zM346 265h1v1h-1zM375 265h1v1h-1zM429 265h1v1h-1zM445 265h1v1h-1zM49 266h1v1h-1zM55 266h1v1h-1zM181 266h1v1h-1zM195 266h1v1h-1zM237 266h1v1h-1zM306 266h1v1h-1zM341 266h1v1h-1zM415 266h1v1h-1zM445 266h1v1h-1zM49 267h1v1h-1zM55 267h1v1h-1zM181 267h1v1h-1zM225 267h1v1h-1zM276 267h1v1h-1zM330 267h1v1h-1zM393 267h1v1h-1zM435 267h1v1h-1zM445 267h1v1h-1zM49 268h1v1h-1zM55 268h1v1h-1zM181 268h1v1h-1zM207 268h1v1h-1zM242 268h1v1h-1zM247 268h1v1h-1zM316 268h1v1h-1zM346 268h1v1h-1zM423 268h1v1h-1zM445 268h1v1h-1zM49 269h1v1h-1zM55 269h1v1h-1zM181 269h1v1h-1zM231 269h1v1h-1zM294 269h1v1h-1zM336 269h1v1h-1zM405 269h1v1h-1zM440 269h1v1h-1zM445 269h1v1h-1zM49 270h1v1h-1zM55 270h1v1h-1zM181 270h1v1h-1zM217 270h1v1h-1zM247 270h1v1h-1zM346 270h1v1h-1zM375 270h1v1h-1zM429 270h1v1h-1zM445 270h1v1h-1zM49 271h1v1h-1zM55 271h1v1h-1zM181 271h1v1h-1zM195 271h1v1h-1zM237 271h1v1h-1zM306 271h1v1h-1zM341 271h1v1h-1zM415 271h1v1h-1zM445 271h1v1h-1zM49 272h1v1h-1zM55 272h1v1h-1zM181 272h1v1h-1zM225 272h1v1h-1zM276 272h1v1h-1zM393 272h1v1h-1zM435 272h1v1h-1zM445 272h1v1h-1zM49 273h1v1h-1zM55 273h1v1h-1zM181 273h1v1h-1zM207 273h1v1h-1zM242 273h1v1h-1zM247 273h1v1h-1zM316 273h1v1h-1zM346 273h1v1h-1zM423 273h1v1h-1zM445 273h1v1h-1zM49 274h1v1h-1zM55 274h1v1h-1zM181 274h1v1h-1zM231 274h1v1h-1zM294 274h1v1h-1zM336 274h1v1h-1zM405 274h1v1h-1zM440 274h1v1h-1zM445 274h1v1h-1zM49 275h1v1h-1zM55 275h1v1h-1zM181 275h1v1h-1zM217 275h1v1h-1zM247 275h1v1h-1zM324 275h1v1h-1zM346 275h1v1h-1zM375 275h1v1h-1zM429 275h1v1h-1zM445 275h1v1h-1zM49 276h1v1h-1zM55 276h1v1h-1zM181 276h1v1h-1zM195 276h1v1h-1zM237 276h1v1h-1zM306 276h1v1h-1zM341 276h1v1h-1zM415 276h1v1h-1zM445 276h1v1h-1zM49 277h1v1h-1zM55 277h1v1h-1zM181 277h1v1h-1zM225 277h1v1h-1zM276 277h1v1h-1zM330 277h1v1h-1zM393 277h1v1h-1zM435 277h1v1h-1zM445 277h1v1h-1zM49 278h1v1h-1zM55 278h1v1h-1zM181 278h1v1h-1zM207 278h1v1h-1zM242 278h1v1h-1zM247 278h1v1h-1zM316 278h1v1h-1zM346 278h1v1h-1zM423 278h1v1h-1zM445 278h1v1h-1zM49 279h1v1h-1zM55 279h1v1h-1zM181 279h1v1h-1zM231 279h1v1h-1zM294 279h1v1h-1zM336 279h1v1h-1zM405 279h1v1h-1zM440 279h1v1h-1zM445 279h1v1h-1zM49 280h1v1h-1zM55 280h1v1h-1zM181 280h1v1h-1zM217 280h1v1h-1zM247 280h1v1h-1zM324 280h1v1h-1zM346 280h1v1h-1zM375 280h1v1h-1zM429 280h1v1h-1zM445 280h1v1h-1zM49 281h1v1h-1zM55 281h1v1h-1zM181 281h1v1h-1zM195 281h1v1h-1zM237 281h1v1h-1zM306 281h1v1h-1zM341 281h1v1h-1zM415 281h1v1h-1zM445 281h1v1h-1zM49 282h1v1h-1zM55 282h1v1h-1zM181 282h1v1h-1zM225 282h1v1h-1zM276 282h1v1h-1zM330 282h1v1h-1zM393 282h1v1h-1zM435 282h1v1h-1zM445 282h1v1h-1zM49 283h1v1h-1zM55 283h1v1h-1zM181 283h1v1h-1zM207 283h1v1h-1zM242 283h1v1h-1zM247 283h1v1h-1zM316 283h1v1h-1zM346 283h1v1h-1zM423 283h1v1h-1zM445 283h1v1h-1zM49 284h1v1h-1zM55 284h1v1h-1zM181 284h1v1h-1zM231 284h1v1h-1zM294 284h1v1h-1zM336 284h1v1h-1zM405 284h1v1h-1zM440 284h1v1h-1zM445 284h1v1h-1zM49 285h1v1h-1zM55 285h1v1h-1zM181 285h1v1h-1zM217 285h1v1h-1zM247 285h1v1h-1zM324 285h1v1h-1zM375 285h1v1h-1zM429 285h1v1h-1zM445 285h1v1h-1zM49 286h1v1h-1zM55 286h1v1h-1zM181 286h1v1h-1zM195 286h1v1h-1zM237 286h1v1h-1zM306 286h1v1h-1zM341 286h1v1h-1zM415 286h1v1h-1zM445 286h1v1h-1zM49 287h1v1h-1zM55 287h1v1h-1zM181 287h1v1h-1zM225 287h1v1h-1zM276 287h1v1h-1zM330 287h1v1h-1zM393 287h1v1h-1zM435 287h1v1h-1zM445 287h1v1h-1zM49 288h1v1h-1zM55 288h1v1h-1zM181 288h1v1h-1zM207 288h1v1h-1zM242 288h1v1h-1zM247 288h1v1h-1zM316 288h1v1h-1zM346 288h1v1h-1zM423 288h1v1h-1zM445 288h1v1h-1zM49 289h1v1h-1zM55 289h1v1h-1zM181 289h1v1h-1zM231 289h1v1h-1zM294 289h1v1h-1zM336 289h1v1h-1zM405 289h1v1h-1zM440 289h1v1h-1zM445 289h1v1h-1zM49 290h1v1h-1zM55 290h1v1h-1zM181 290h1v1h-1zM217 290h1v1h-1zM247 290h1v1h-1zM324 290h1v1h-1zM346 290h1v1h-1zM375 290h1v1h-1zM429 290h1v1h-1zM445 290h1v1h-1zM49 291h1v1h-1zM55 291h1v1h-1zM181 291h1v1h-1zM195 291h1v1h-1zM237 291h1v1h-1zM306 291h1v1h-1zM341 291h1v1h-1zM415 291h1v1h-1zM445 291h1v1h-1zM49 292h1v1h-1zM55 292h1v1h-1zM181 292h1v1h-1zM225 292h1v1h-1zM276 292h1v1h-1zM330 292h1v1h-1zM393 292h1v1h-1zM435 292h1v1h-1zM445 292h1v1h-1zM49 293h1v1h-1zM55 293h1v1h-1zM181 293h1v1h-1zM207 293h1v1h-1zM242 293h1v1h-1zM247 293h1v1h-1zM316 293h1v1h-1zM346 293h1v1h-1zM423 293h1v1h-1zM445 293h1v1h-1zM49 294h1v1h-1zM55 294h1v1h-1zM181 294h1v1h-1zM231 294h1v1h-1zM294 294h1v1h-1zM336 294h1v1h-1zM405 294h1v1h-1zM440 294h1v1h-1zM445 294h1v1h-1zM49 295h1v1h-1zM55 295h1v1h-1zM181 295h1v1h-1zM217 295h1v1h-1zM247 295h1v1h-1zM324 295h1v1h-1zM346 295h1v1h-1zM429 295h1v1h-1zM445 295h1v1h-1zM49 296h1v1h-1zM55 296h1v1h-1zM181 296h1v1h-1zM195 296h1v1h-1zM237 296h1v1h-1zM306 296h1v1h-1zM341 296h1v1h-1zM415 296h1v1h-1zM445 296h1v1h-1zM49 297h1v1h-1zM55 297h1v1h-1zM181 297h1v1h-1zM225 297h1v1h-1zM276 297h1v1h-1zM330 297h1v1h-1zM393 297h1v1h-1zM435 297h1v1h-1zM445 297h1v1h-1zM49 298h1v1h-1zM55 298h1v1h-1zM181 298h1v1h-1zM207 298h1v1h-1zM242 298h1v1h-1zM247 298h1v1h-1zM316 298h1v1h-1zM346 298h1v1h-1zM423 298h1v1h-1zM445 298h1v1h-1zM49 299h1v1h-1zM55 299h1v1h-1zM181 299h1v1h-1zM231 299h1v1h-1zM294 299h1v1h-1zM336 299h1v1h-1zM405 299h1v1h-1zM440 299h1v1h-1zM445 299h1v1h-1zM49 300h1v1h-1zM55 300h1v1h-1zM181 300h1v1h-1zM217 300h1v1h-1zM247 300h1v1h-1zM324 300h1v1h-1zM346 300h1v1h-1zM375 300h1v1h-1zM429 300h1v1h-1zM445 300h1v1h-1zM49 301h1v1h-1zM55 301h1v1h-1zM181 301h1v1h-1zM195 301h1v1h-1zM237 301h1v1h-1zM306 301h1v1h-1zM341 301h1v1h-1zM415 301h1v1h-1zM445 301h1v1h-1zM49 302h1v1h-1zM55 302h1v1h-1zM181 302h1v1h-1zM225 302h1v1h-1zM276 302h1v1h-1zM330 302h1v1h-1zM393 302h1v1h-1zM435 302h1v1h-1zM445 302h1v1h-1zM49 303h1v1h-1zM55 303h1v1h-1zM181 303h1v1h-1zM207 303h1v1h-1zM242 303h1v1h-1zM247 303h1v1h-1zM316 303h1v1h-1zM346 303h1v1h-1zM423 303h1v1h-1zM445 303h1v1h-1zM49 304h1v1h-1zM55 304h127v1h-127zM231 304h1v1h-1zM294 304h1v1h-1zM336 304h1v1h-1zM440 304h1v1h-1zM445 304h1v1h-1zM49 305h1v1h-1zM108 305h1v1h-1zM143 305h1v1h-1zM148 305h1v1h-1zM217 305h1v1h-1zM247 305h1v1h-1zM324 305h1v1h-1zM346 305h1v1h-1zM375 305h1v1h-1zM429 305h1v1h-1zM445 305h1v1h-1zM49 306h5v1h-5zM55 306h1v1h-1zM60 306h1v1h-1zM65 306h1v1h-1zM70 306h1v1h-1zM75 306h1v1h-1zM78 306h1v1h-1zM80 306h1v1h-1zM85 306h1v1h-1zM90 306h1v1h-1zM95 306h1v1h-1zM100 306h1v1h-1zM105 306h1v1h-1zM110 306h1v1h-1zM115 306h1v1h-1zM120 306h1v1h-1zM125 306h1v1h-1zM130 306h1v1h-1zM132 306h1v1h-1zM135 306h1v1h-1zM140 306h1v1h-1zM145 306h1v1h-1zM148 306h1v1h-1zM150 306h1v1h-1zM155 306h1v1h-1zM160 306h1v1h-1zM165 306h1v1h-1zM170 306h1v1h-1zM175 306h1v1h-1zM180 306h1v1h-1zM185 306h1v1h-1zM190 306h1v1h-1zM195 306h1v1h-1zM200 306h1v1h-1zM205 306h1v1h-1zM210 306h1v1h-1zM215 306h1v1h-1zM220 306h1v1h-1zM225 306h1v1h-1zM230 306h1v1h-1zM235 306h1v1h-1zM237 306h1v1h-1zM240 306h1v1h-1zM245 306h1v1h-1zM247 306h1v1h-1zM250 306h1v1h-1zM255 306h1v1h-1zM260 306h1v1h-1zM265 306h1v1h-1zM270 306h1v1h-1zM275 306h1v1h-1zM280 306h1v1h-1zM285 306h1v1h-1zM290 306h1v1h-1zM295 306h1v1h-1zM300 306h1v1h-1zM305 306h2v1h-2zM310 306h1v1h-1zM315 306h1v1h-1zM320 306h1v1h-1zM325 306h1v1h-1zM330 306h1v1h-1zM335 306h1v1h-1zM340 306h2v1h-2zM345 306h2v1h-2zM350 306h1v1h-1zM355 306h1v1h-1zM360 306h1v1h-1zM365 306h1v1h-1zM370 306h1v1h-1zM375 306h1v1h-1zM380 306h1v1h-1zM385 306h1v1h-1zM390 306h1v1h-1zM395 306h1v1h-1zM400 306h1v1h-1zM405 306h1v1h-1zM410 306h1v1h-1zM415 306h1v1h-1zM420 306h1v1h-1zM425 306h1v1h-1zM430 306h1v1h-1zM435 306h1v1h-1zM440 306h6v1h-6zM49 307h1v1h-1zM78 307h1v1h-1zM96 307h1v1h-1zM108 307h1v1h-1zM118 307h1v1h-1zM126 307h1v1h-1zM132 307h1v1h-1zM138 307h1v1h-1zM143 307h1v1h-1zM148 307h1v1h-1zM177 307h1v1h-1zM195 307h1v1h-1zM207 307h1v1h-1zM217 307h1v1h-1zM225 307h1v1h-1zM231 307h1v1h-1zM237 307h1v1h-1zM242 307h1v1h-1zM247 307h1v1h-1zM276 307h1v1h-1zM294 307h1v1h-1zM306 307h1v1h-1zM316 307h1v1h-1zM324 307h1v1h-1zM330 307h1v1h-1zM336 307h1v1h-1zM341 307h1v1h-1zM346 307h1v1h-1zM375 307h1v1h-1zM393 307h1v1h-1zM405 307h1v1h-1zM415 307h1v1h-1zM423 307h1v1h-1zM429 307h1v1h-1zM435 307h1v1h-1zM440 307h1v1h-1zM445 307h1v1h-1zM49 308h1v1h-1zM78 308h1v1h-1zM96 308h1v1h-1zM108 308h1v1h-1zM118 308h1v1h-1zM126 308h1v1h-1zM132 308h1v1h-1zM138 308h1v1h-1zM143 308h1v1h-1zM148 308h1v1h-1zM177 308h1v1h-1zM195 308h1v1h-1zM207 308h1v1h-1zM217 308h1v1h-1zM225 308h1v1h-1zM231 308h1v1h-1zM237 308h1v1h-1zM242 308h1v1h-1zM247 308h1v1h-1zM276 308h1v1h-1zM294 308h1v1h-1zM306 308h1v1h-1zM316 308h1v1h-1zM324 308h1v1h-1zM330 308h1v1h-1zM336 308h1v1h-1zM341 308h1v1h-1zM346 308h1v1h-1zM375 308h1v1h-1zM393 308h1v1h-1zM405 308h1v1h-1zM415 308h1v1h-1zM423 308h1v1h-1zM429 308h1v1h-1zM435 308h1v1h-1zM440 308h1v1h-1zM445 308h1v1h-1zM49 309h397v1h-397z"/>
</g>
<g class="t">
<text class="tk" transform="scale(0.9 1)" x="142.96 171.58 209.81" y="172.51" font-size="62.59">-20</text>
<text class="tk" transform="scale(0.9 1)" x="142.96 168.99 209.81" y="413.62" font-size="62.59">-40</text>
<text class="tk" transform="scale(0.9 1)" x="142.96 171.34 209.81" y="654.73" font-size="62.59">-60</text>
<text class="tk" transform="scale(0.9 1)" x="209.81" y="954.88" font-size="62.59">0</text>
<text class="tk" transform="scale(0.9 1)" x="142.96 168.99 209.89" y="1245.20" font-size="62.59">-45</text>
<text class="tk" transform="scale(0.9 1)" x="142.96 171.58 209.81" y="1535.51" font-size="62.59">-90</text>
<text class="tk" transform="scale(0.9 1)" x="203.56 248.13" y="758.06" font-size="62.59">10</text>
<text class="tk" transform="scale(0.9 1)" x="756.37 800.94" y="758.06" font-size="62.59">10</text>
<text class="tk" transform="scale(0.9 1)" x="1298.24 1342.81" y="758.06" font-size="62.59">10</text>
<text class="tk" transform="scale(0.9 1)" x="1840.11 1884.68" y="758.06" font-size="62.59">10</text>
<text class="tk" transform="scale(0.9 1)" x="2381.99 2426.56" y="758.06" font-size="62.59">10</text>
<text class="sp" transform="scale(0.9 1)" x="283.27 305.42" y="699.12" font-size="41.73">-1</text>
<text class="sp" transform="scale(0.9 1)" x="842.34" y="699.12" font-size="41.73">0</text>
<text class="sp" transform="scale(0.9 1)" x="1389.16" y="699.12" font-size="41.73">1</text>
<text class="sp" transform="scale(0.9 1)" x="1926.13" y="699.12" font-size="41.73">2</text>
<text class="sp" transform="scale(0.9 1)" x="2476.32" y="699.12" font-size="41.73">3</text>
<text class="tk" transform="scale(0.9 1)" x="203.56 248.13" y="1653.61" font-size="62.59">10</text>
<text class="tk" transform="scale(0.9 1)" x="756.37 800.94" y="1653.61" font-size="62.59">10</text>
<text class="tk" transform="scale(0.9 1)" x="1298.24 1342.81" y="1653.61" font-size="62.59">10</text>
<text class="tk" transform="scale(0.9 1)" x="1840.11 1884.68" y="1653.61" font-size="62.59">10</text>
<text class="tk" transform="scale(0.9 1)" x="2381.99 2426.56" y="1653.61" font-size="62.59">10</text>
<text class="sp" transform="scale(0.9 1)" x="283.27 305.42" y="1594.67" font-size="41.73">-1</text>
<text class="sp" transform="scale(0.9 1)" x="842.34" y="1594.67" font-size="41.73">0</text>
<text class="sp" transform="scale(0.9 1)" x="1389.16" y="1594.67" font-size="41.73">1</text>
<text class="sp" transform="scale(0.9 1)" x="1926.13" y="1594.67" font-size="41.73">2</text>
<text class="sp" transform="scale(0.9 1)" x="2476.32" y="1594.67" font-size="41.73">3</text>
<text class="ax" x="78.21" y="582.01" font-size="73.76" textLength="487.42" lengthAdjust="spacingAndGlyphs" transform="rotate(-90 78.21 582.01)">Magnitude (dB)</text>
<text class="ax" x="78.21" y="1428.37" font-size="73.76" textLength="389.09" lengthAdjust="spacingAndGlyphs" transform="rotate(-90 78.21 1428.37)">Phase (deg)</text>
<text class="ax" x="964.82" y="1756.54" font-size="73.68" textLength="492.82" lengthAdjust="spacingAndGlyphs">Frequency (Hz)</text>
<text class="lg" x="512.56" y="468.06" font-size="61.08" textLength="348.62" lengthAdjust="spacingAndGlyphs">Experimental</text>
<text class="lg" x="514.67" y="571.39" font-size="61.08" textLength="277.41" lengthAdjust="spacingAndGlyphs">Simulation</text>
<text class="lg" x="512.56" y="1363.61" font-size="61.08" textLength="348.62" lengthAdjust="spacingAndGlyphs">Experimental</text>
<text class="lg" x="514.67" y="1466.94" font-size="61.08" textLength="277.41" lengthAdjust="spacingAndGlyphs">Simulation</text>
</g>
</svg>
</body></html>
